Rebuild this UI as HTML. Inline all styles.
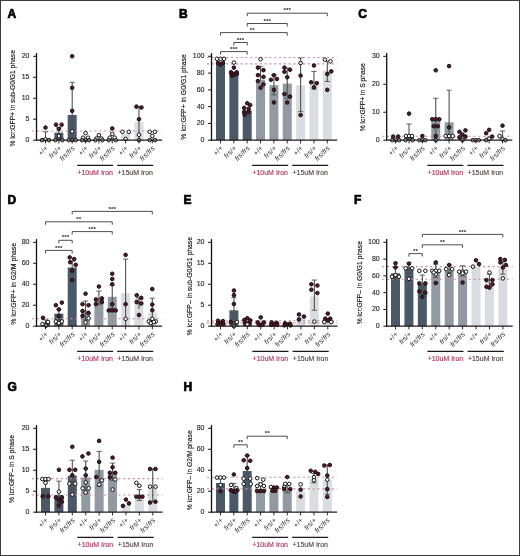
<!DOCTYPE html>
<html><head><meta charset="utf-8"><style>
html,body{margin:0;padding:0;background:#fff;}
body{width:520px;height:556px;overflow:hidden;}
svg{display:block;will-change:transform;}
text{font-family:'Liberation Sans',sans-serif;}
.pl{font-size:12px;font-weight:bold;fill:#000;stroke:#000;stroke-width:0.7px;}
.tk{font-size:7.0px;fill:#222;stroke:#222;stroke-width:0.12px;}
.xl{font-size:7.2px;fill:#2a2a2a;}
.gl{font-size:7.0px;stroke-width:0.15px;}
.yl{font-size:8px;fill:#1a1a1a;stroke:#1a1a1a;stroke-width:0.18px;}
.st{font-size:6.2px;fill:#222;font-weight:bold;letter-spacing:0.1px;}
</style></head><body>
<svg width="520" height="556" viewBox="0 0 520 556">
<rect x="0" y="0" width="520" height="556" fill="#fff"/>
<rect x="41" y="138.1" width="9" height="2.1" fill="#4a5968"/>
<rect x="54.35" y="132.65" width="9" height="7.55" fill="#4a5968"/>
<rect x="67.7" y="115.03" width="9" height="25.17" fill="#4a5968"/>
<rect x="81.05" y="138.94" width="9" height="1.26" fill="#9199a2"/>
<rect x="94.4" y="138.94" width="9" height="1.26" fill="#9199a2"/>
<rect x="107.75" y="137.68" width="9" height="2.52" fill="#9199a2"/>
<rect x="121.1" y="133.49" width="9" height="6.71" fill="#d9dce0"/>
<rect x="134.45" y="122.16" width="9" height="18.04" fill="#d9dce0"/>
<rect x="147.8" y="137.68" width="9" height="2.52" fill="#d9dce0"/>
<line x1="32" y1="130.97" x2="162.1" y2="130.97" stroke="#c8909b" stroke-width="1.1" stroke-dasharray="2.1 2.7"/>
<line x1="45.5" y1="140.2" x2="45.5" y2="131.81" stroke="#505050" stroke-width="1.1"/>
<line x1="42.9" y1="131.81" x2="48.1" y2="131.81" stroke="#505050" stroke-width="0.9"/>
<line x1="58.85" y1="140.2" x2="58.85" y2="127.61" stroke="#505050" stroke-width="1.1"/>
<line x1="56.25" y1="127.61" x2="61.45" y2="127.61" stroke="#505050" stroke-width="0.9"/>
<line x1="72.2" y1="140.2" x2="72.2" y2="82.31" stroke="#505050" stroke-width="1.1"/>
<line x1="69.6" y1="82.31" x2="74.8" y2="82.31" stroke="#505050" stroke-width="0.9"/>
<line x1="138.95" y1="140.2" x2="138.95" y2="106.64" stroke="#505050" stroke-width="1.1"/>
<line x1="136.35" y1="106.64" x2="141.55" y2="106.64" stroke="#505050" stroke-width="0.9"/>
<circle cx="45.5" cy="127.61" r="1.8" fill="#5e1529" stroke="#111" stroke-width="1"/>
<circle cx="42" cy="140.2" r="1.8" fill="#ffffff" stroke="#111" stroke-width="1"/>
<circle cx="45.5" cy="139.36" r="1.8" fill="#ffffff" stroke="#111" stroke-width="1"/>
<circle cx="49" cy="140.2" r="1.8" fill="#ffffff" stroke="#111" stroke-width="1"/>
<circle cx="56.05" cy="124.68" r="1.8" fill="#5e1529" stroke="#111" stroke-width="1"/>
<circle cx="61.65" cy="124.68" r="1.8" fill="#5e1529" stroke="#111" stroke-width="1"/>
<circle cx="58.85" cy="128.87" r="1.8" fill="#5e1529" stroke="#111" stroke-width="1"/>
<circle cx="58.85" cy="136" r="1.8" fill="#ffffff" stroke="#111" stroke-width="1"/>
<circle cx="55.35" cy="140.2" r="1.8" fill="#ffffff" stroke="#111" stroke-width="1"/>
<circle cx="62.35" cy="140.2" r="1.8" fill="#ffffff" stroke="#111" stroke-width="1"/>
<circle cx="72.2" cy="56.3" r="1.8" fill="#5e1529" stroke="#111" stroke-width="1"/>
<circle cx="72.2" cy="87.76" r="1.8" fill="#5e1529" stroke="#111" stroke-width="1"/>
<circle cx="72.2" cy="110.83" r="1.8" fill="#5e1529" stroke="#111" stroke-width="1"/>
<circle cx="72.2" cy="131.39" r="1.8" fill="#ffffff" stroke="#111" stroke-width="1"/>
<circle cx="68.7" cy="140.2" r="1.8" fill="#ffffff" stroke="#111" stroke-width="1"/>
<circle cx="72.2" cy="140.2" r="1.8" fill="#ffffff" stroke="#111" stroke-width="1"/>
<circle cx="75.7" cy="140.2" r="1.8" fill="#ffffff" stroke="#111" stroke-width="1"/>
<circle cx="85.55" cy="133.07" r="1.8" fill="#ffffff" stroke="#111" stroke-width="1"/>
<circle cx="83.05" cy="137.68" r="1.8" fill="#ffffff" stroke="#111" stroke-width="1"/>
<circle cx="88.05" cy="137.68" r="1.8" fill="#ffffff" stroke="#111" stroke-width="1"/>
<circle cx="82.05" cy="140.2" r="1.8" fill="#ffffff" stroke="#111" stroke-width="1"/>
<circle cx="85.55" cy="140.2" r="1.8" fill="#ffffff" stroke="#111" stroke-width="1"/>
<circle cx="89.05" cy="140.2" r="1.8" fill="#ffffff" stroke="#111" stroke-width="1"/>
<circle cx="98.9" cy="135.17" r="1.8" fill="#ffffff" stroke="#111" stroke-width="1"/>
<circle cx="96.4" cy="138.52" r="1.8" fill="#ffffff" stroke="#111" stroke-width="1"/>
<circle cx="101.4" cy="138.52" r="1.8" fill="#ffffff" stroke="#111" stroke-width="1"/>
<circle cx="95.4" cy="140.2" r="1.8" fill="#ffffff" stroke="#111" stroke-width="1"/>
<circle cx="102.4" cy="140.2" r="1.8" fill="#ffffff" stroke="#111" stroke-width="1"/>
<circle cx="112.25" cy="128.45" r="1.8" fill="#5e1529" stroke="#111" stroke-width="1"/>
<circle cx="112.25" cy="133.91" r="1.8" fill="#ffffff" stroke="#111" stroke-width="1"/>
<circle cx="109.75" cy="137.68" r="1.8" fill="#ffffff" stroke="#111" stroke-width="1"/>
<circle cx="114.75" cy="137.68" r="1.8" fill="#ffffff" stroke="#111" stroke-width="1"/>
<circle cx="108.75" cy="140.2" r="1.8" fill="#ffffff" stroke="#111" stroke-width="1"/>
<circle cx="115.75" cy="140.2" r="1.8" fill="#ffffff" stroke="#111" stroke-width="1"/>
<circle cx="122.4" cy="131.81" r="1.8" fill="#ffffff" stroke="#111" stroke-width="1"/>
<circle cx="128.8" cy="131.81" r="1.8" fill="#ffffff" stroke="#111" stroke-width="1"/>
<circle cx="125.6" cy="138.94" r="1.8" fill="#ffffff" stroke="#111" stroke-width="1"/>
<circle cx="136.45" cy="106.64" r="1.8" fill="#5e1529" stroke="#111" stroke-width="1"/>
<circle cx="141.45" cy="107.48" r="1.8" fill="#5e1529" stroke="#111" stroke-width="1"/>
<circle cx="138.95" cy="119.22" r="1.8" fill="#5e1529" stroke="#111" stroke-width="1"/>
<circle cx="138.95" cy="134.75" r="1.8" fill="#ffffff" stroke="#111" stroke-width="1"/>
<circle cx="138.95" cy="140.2" r="1.8" fill="#ffffff" stroke="#111" stroke-width="1"/>
<circle cx="149.7" cy="131.81" r="1.8" fill="#ffffff" stroke="#111" stroke-width="1"/>
<circle cx="154.9" cy="131.81" r="1.8" fill="#ffffff" stroke="#111" stroke-width="1"/>
<circle cx="152.3" cy="136" r="1.8" fill="#ffffff" stroke="#111" stroke-width="1"/>
<circle cx="149.7" cy="140.2" r="1.8" fill="#ffffff" stroke="#111" stroke-width="1"/>
<circle cx="154.9" cy="140.2" r="1.8" fill="#ffffff" stroke="#111" stroke-width="1"/>
<line x1="36.5" y1="53.1" x2="36.5" y2="140.8" stroke="#111" stroke-width="1.3"/>
<line x1="35.9" y1="140.2" x2="162.1" y2="140.2" stroke="#24161a" stroke-width="1.25"/>
<line x1="33.1" y1="140.2" x2="36.5" y2="140.2" stroke="#111" stroke-width="1"/>
<text x="29.5" y="142.2" text-anchor="end" class="tk" transform="translate(0 142.2) scale(1 0.92) translate(0 -142.2)">0</text>
<line x1="33.1" y1="119.22" x2="36.5" y2="119.22" stroke="#111" stroke-width="1"/>
<text x="29.5" y="121.22" text-anchor="end" class="tk" transform="translate(0 121.22) scale(1 0.92) translate(0 -121.22)">5</text>
<line x1="33.1" y1="98.25" x2="36.5" y2="98.25" stroke="#111" stroke-width="1"/>
<text x="29.5" y="100.25" text-anchor="end" class="tk" transform="translate(0 100.25) scale(1 0.92) translate(0 -100.25)">10</text>
<line x1="33.1" y1="77.27" x2="36.5" y2="77.27" stroke="#111" stroke-width="1"/>
<text x="29.5" y="79.27" text-anchor="end" class="tk" transform="translate(0 79.27) scale(1 0.92) translate(0 -79.27)">15</text>
<line x1="33.1" y1="56.3" x2="36.5" y2="56.3" stroke="#111" stroke-width="1"/>
<text x="29.5" y="58.3" text-anchor="end" class="tk" transform="translate(0 58.3) scale(1 0.92) translate(0 -58.3)">20</text>
<line x1="45.5" y1="140.2" x2="45.5" y2="143.4" stroke="#111" stroke-width="0.9"/>
<text class="xl" text-anchor="end" transform="translate(48.5 148.6) rotate(-45)">+/+</text>
<line x1="58.85" y1="140.2" x2="58.85" y2="143.4" stroke="#111" stroke-width="0.9"/>
<text class="xl" text-anchor="end" transform="translate(61.85 148.6) rotate(-45)"><tspan font-style="italic">frs</tspan>/+</text>
<line x1="72.2" y1="140.2" x2="72.2" y2="143.4" stroke="#111" stroke-width="0.9"/>
<text class="xl" text-anchor="end" transform="translate(75.2 148.6) rotate(-45)"><tspan font-style="italic">frs</tspan>/<tspan font-style="italic">frs</tspan></text>
<line x1="85.55" y1="140.2" x2="85.55" y2="143.4" stroke="#111" stroke-width="0.9"/>
<text class="xl" text-anchor="end" transform="translate(88.55 148.6) rotate(-45)">+/+</text>
<line x1="98.9" y1="140.2" x2="98.9" y2="143.4" stroke="#111" stroke-width="0.9"/>
<text class="xl" text-anchor="end" transform="translate(101.9 148.6) rotate(-45)"><tspan font-style="italic">frs</tspan>/+</text>
<line x1="112.25" y1="140.2" x2="112.25" y2="143.4" stroke="#111" stroke-width="0.9"/>
<text class="xl" text-anchor="end" transform="translate(115.25 148.6) rotate(-45)"><tspan font-style="italic">frs</tspan>/<tspan font-style="italic">frs</tspan></text>
<line x1="125.6" y1="140.2" x2="125.6" y2="143.4" stroke="#111" stroke-width="0.9"/>
<text class="xl" text-anchor="end" transform="translate(128.6 148.6) rotate(-45)">+/+</text>
<line x1="138.95" y1="140.2" x2="138.95" y2="143.4" stroke="#111" stroke-width="0.9"/>
<text class="xl" text-anchor="end" transform="translate(141.95 148.6) rotate(-45)"><tspan font-style="italic">frs</tspan>/+</text>
<line x1="152.3" y1="140.2" x2="152.3" y2="143.4" stroke="#111" stroke-width="0.9"/>
<text class="xl" text-anchor="end" transform="translate(155.3 148.6) rotate(-45)"><tspan font-style="italic">frs</tspan>/<tspan font-style="italic">frs</tspan></text>
<line x1="77.15" y1="165.4" x2="113.15" y2="165.4" stroke="#1a1a1a" stroke-width="1.2"/>
<text class="gl" x="0" y="0" text-anchor="middle" fill="#b3355a" stroke="#b3355a" transform="translate(95.15 174.6) scale(1 0.92)">+10uM Iron</text>
<line x1="117.2" y1="165.4" x2="153.2" y2="165.4" stroke="#1a1a1a" stroke-width="1.2"/>
<text class="gl" x="0" y="0" text-anchor="middle" fill="#5a4843" stroke="#5a4843" transform="translate(135.2 174.6) scale(1 0.92)">+15uM Iron</text>
<text class="yl" text-anchor="middle" transform="translate(14.9 98.25) rotate(-90) scale(0.84 1)">% lcr:GFP+ in sub-G0/G1 phase</text>
<text class="pl" x="7.6" y="18.2">A</text>
<rect x="216" y="61.75" width="9" height="78.45" fill="#4a5968"/>
<rect x="229.35" y="71.82" width="9" height="68.38" fill="#4a5968"/>
<rect x="242.7" y="110.42" width="9" height="29.78" fill="#4a5968"/>
<rect x="256.05" y="79.79" width="9" height="60.41" fill="#9199a2"/>
<rect x="269.4" y="85.25" width="9" height="54.95" fill="#9199a2"/>
<rect x="282.75" y="83.57" width="9" height="56.63" fill="#9199a2"/>
<rect x="296.1" y="85.25" width="9" height="54.95" fill="#d9dce0"/>
<rect x="309.45" y="84.41" width="9" height="55.79" fill="#d9dce0"/>
<rect x="322.8" y="70.56" width="9" height="69.64" fill="#d9dce0"/>
<line x1="207" y1="57.56" x2="337.1" y2="57.56" stroke="#c8909b" stroke-width="1.1" stroke-dasharray="2.1 2.7"/>
<line x1="207" y1="63.85" x2="337.1" y2="63.85" stroke="#c8909b" stroke-width="1.1" stroke-dasharray="2.1 2.7"/>
<line x1="260.55" y1="79.79" x2="260.55" y2="66.37" stroke="#505050" stroke-width="1.1"/>
<line x1="257.95" y1="66.37" x2="263.15" y2="66.37" stroke="#505050" stroke-width="0.9"/>
<line x1="273.9" y1="94.89" x2="273.9" y2="74.76" stroke="#505050" stroke-width="1.1"/>
<line x1="271.3" y1="74.76" x2="276.5" y2="74.76" stroke="#505050" stroke-width="0.9"/>
<line x1="271.3" y1="94.89" x2="276.5" y2="94.89" stroke="#505050" stroke-width="0.9"/>
<line x1="287.25" y1="98.25" x2="287.25" y2="68.05" stroke="#505050" stroke-width="1.1"/>
<line x1="284.65" y1="68.05" x2="289.85" y2="68.05" stroke="#505050" stroke-width="0.9"/>
<line x1="284.65" y1="98.25" x2="289.85" y2="98.25" stroke="#505050" stroke-width="0.9"/>
<line x1="300.6" y1="111.67" x2="300.6" y2="57.98" stroke="#505050" stroke-width="1.1"/>
<line x1="298" y1="57.98" x2="303.2" y2="57.98" stroke="#505050" stroke-width="0.9"/>
<line x1="298" y1="111.67" x2="303.2" y2="111.67" stroke="#505050" stroke-width="0.9"/>
<line x1="313.95" y1="89.02" x2="313.95" y2="71.4" stroke="#505050" stroke-width="1.1"/>
<line x1="311.35" y1="71.4" x2="316.55" y2="71.4" stroke="#505050" stroke-width="0.9"/>
<line x1="311.35" y1="89.02" x2="316.55" y2="89.02" stroke="#505050" stroke-width="0.9"/>
<line x1="327.3" y1="81.47" x2="327.3" y2="61.33" stroke="#505050" stroke-width="1.1"/>
<line x1="324.7" y1="61.33" x2="329.9" y2="61.33" stroke="#505050" stroke-width="0.9"/>
<line x1="324.7" y1="81.47" x2="329.9" y2="81.47" stroke="#505050" stroke-width="0.9"/>
<circle cx="216.9" cy="58.82" r="1.8" fill="#ffffff" stroke="#111" stroke-width="1"/>
<circle cx="220.5" cy="58.82" r="1.8" fill="#ffffff" stroke="#111" stroke-width="1"/>
<circle cx="224.1" cy="58.82" r="1.8" fill="#ffffff" stroke="#111" stroke-width="1"/>
<circle cx="218" cy="63.01" r="1.8" fill="#5e1529" stroke="#111" stroke-width="1"/>
<circle cx="223" cy="63.01" r="1.8" fill="#5e1529" stroke="#111" stroke-width="1"/>
<circle cx="220.5" cy="64.69" r="1.8" fill="#5e1529" stroke="#111" stroke-width="1"/>
<circle cx="233.85" cy="62.59" r="1.8" fill="#ffffff" stroke="#111" stroke-width="1"/>
<circle cx="233.85" cy="67.63" r="1.8" fill="#5e1529" stroke="#111" stroke-width="1"/>
<circle cx="231.05" cy="72.24" r="1.8" fill="#5e1529" stroke="#111" stroke-width="1"/>
<circle cx="236.65" cy="72.24" r="1.8" fill="#5e1529" stroke="#111" stroke-width="1"/>
<circle cx="231.85" cy="75.6" r="1.8" fill="#5e1529" stroke="#111" stroke-width="1"/>
<circle cx="236.85" cy="73.92" r="1.8" fill="#5e1529" stroke="#111" stroke-width="1"/>
<circle cx="233.85" cy="74.76" r="1.8" fill="#5e1529" stroke="#111" stroke-width="1"/>
<circle cx="247.2" cy="103.28" r="1.8" fill="#5e1529" stroke="#111" stroke-width="1"/>
<circle cx="250.2" cy="104.96" r="1.8" fill="#5e1529" stroke="#111" stroke-width="1"/>
<circle cx="244.2" cy="107.9" r="1.8" fill="#5e1529" stroke="#111" stroke-width="1"/>
<circle cx="248.7" cy="108.74" r="1.8" fill="#5e1529" stroke="#111" stroke-width="1"/>
<circle cx="244.2" cy="112.09" r="1.8" fill="#5e1529" stroke="#111" stroke-width="1"/>
<circle cx="248.7" cy="112.09" r="1.8" fill="#5e1529" stroke="#111" stroke-width="1"/>
<circle cx="244.7" cy="114.61" r="1.8" fill="#5e1529" stroke="#111" stroke-width="1"/>
<circle cx="260.55" cy="59.24" r="1.8" fill="#ffffff" stroke="#111" stroke-width="1"/>
<circle cx="257.95" cy="67.63" r="1.8" fill="#5e1529" stroke="#111" stroke-width="1"/>
<circle cx="263.45" cy="70.14" r="1.8" fill="#5e1529" stroke="#111" stroke-width="1"/>
<circle cx="257.95" cy="75.18" r="1.8" fill="#5e1529" stroke="#111" stroke-width="1"/>
<circle cx="263.45" cy="76.86" r="1.8" fill="#5e1529" stroke="#111" stroke-width="1"/>
<circle cx="257.95" cy="81.05" r="1.8" fill="#5e1529" stroke="#111" stroke-width="1"/>
<circle cx="263.45" cy="84.41" r="1.8" fill="#5e1529" stroke="#111" stroke-width="1"/>
<circle cx="260.55" cy="87.76" r="1.8" fill="#5e1529" stroke="#111" stroke-width="1"/>
<circle cx="273.9" cy="75.18" r="1.8" fill="#5e1529" stroke="#111" stroke-width="1"/>
<circle cx="270.9" cy="79.79" r="1.8" fill="#5e1529" stroke="#111" stroke-width="1"/>
<circle cx="276.9" cy="78.95" r="1.8" fill="#5e1529" stroke="#111" stroke-width="1"/>
<circle cx="273.9" cy="89.86" r="1.8" fill="#5e1529" stroke="#111" stroke-width="1"/>
<circle cx="273.9" cy="102.44" r="1.8" fill="#5e1529" stroke="#111" stroke-width="1"/>
<circle cx="284.45" cy="67.63" r="1.8" fill="#5e1529" stroke="#111" stroke-width="1"/>
<circle cx="290.05" cy="69.72" r="1.8" fill="#5e1529" stroke="#111" stroke-width="1"/>
<circle cx="284.45" cy="71.82" r="1.8" fill="#5e1529" stroke="#111" stroke-width="1"/>
<circle cx="287.25" cy="77.27" r="1.8" fill="#5e1529" stroke="#111" stroke-width="1"/>
<circle cx="284.45" cy="94.05" r="1.8" fill="#5e1529" stroke="#111" stroke-width="1"/>
<circle cx="290.05" cy="96.57" r="1.8" fill="#5e1529" stroke="#111" stroke-width="1"/>
<circle cx="287.25" cy="102.44" r="1.8" fill="#5e1529" stroke="#111" stroke-width="1"/>
<circle cx="300.6" cy="63.01" r="1.8" fill="#ffffff" stroke="#111" stroke-width="1"/>
<circle cx="300.6" cy="75.6" r="1.8" fill="#5e1529" stroke="#111" stroke-width="1"/>
<circle cx="300.6" cy="115.03" r="1.8" fill="#5e1529" stroke="#111" stroke-width="1"/>
<circle cx="313.95" cy="65.53" r="1.8" fill="#5e1529" stroke="#111" stroke-width="1"/>
<circle cx="311.15" cy="82.31" r="1.8" fill="#5e1529" stroke="#111" stroke-width="1"/>
<circle cx="316.75" cy="83.15" r="1.8" fill="#5e1529" stroke="#111" stroke-width="1"/>
<circle cx="313.95" cy="87.34" r="1.8" fill="#5e1529" stroke="#111" stroke-width="1"/>
<circle cx="324.9" cy="59.66" r="1.8" fill="#ffffff" stroke="#111" stroke-width="1"/>
<circle cx="330.5" cy="61.33" r="1.8" fill="#ffffff" stroke="#111" stroke-width="1"/>
<circle cx="331.3" cy="71.4" r="1.8" fill="#5e1529" stroke="#111" stroke-width="1"/>
<circle cx="327.3" cy="73.92" r="1.8" fill="#5e1529" stroke="#111" stroke-width="1"/>
<circle cx="327.3" cy="89.86" r="1.8" fill="#5e1529" stroke="#111" stroke-width="1"/>
<line x1="211.5" y1="53.1" x2="211.5" y2="140.8" stroke="#111" stroke-width="1.3"/>
<line x1="210.9" y1="140.2" x2="337.1" y2="140.2" stroke="#24161a" stroke-width="1.25"/>
<line x1="208.1" y1="140.2" x2="211.5" y2="140.2" stroke="#111" stroke-width="1"/>
<text x="204.5" y="142.2" text-anchor="end" class="tk" transform="translate(0 142.2) scale(1 0.92) translate(0 -142.2)">0</text>
<line x1="208.1" y1="123.42" x2="211.5" y2="123.42" stroke="#111" stroke-width="1"/>
<text x="204.5" y="125.42" text-anchor="end" class="tk" transform="translate(0 125.42) scale(1 0.92) translate(0 -125.42)">20</text>
<line x1="208.1" y1="106.64" x2="211.5" y2="106.64" stroke="#111" stroke-width="1"/>
<text x="204.5" y="108.64" text-anchor="end" class="tk" transform="translate(0 108.64) scale(1 0.92) translate(0 -108.64)">40</text>
<line x1="208.1" y1="89.86" x2="211.5" y2="89.86" stroke="#111" stroke-width="1"/>
<text x="204.5" y="91.86" text-anchor="end" class="tk" transform="translate(0 91.86) scale(1 0.92) translate(0 -91.86)">60</text>
<line x1="208.1" y1="73.08" x2="211.5" y2="73.08" stroke="#111" stroke-width="1"/>
<text x="204.5" y="75.08" text-anchor="end" class="tk" transform="translate(0 75.08) scale(1 0.92) translate(0 -75.08)">80</text>
<line x1="208.1" y1="56.3" x2="211.5" y2="56.3" stroke="#111" stroke-width="1"/>
<text x="204.5" y="58.3" text-anchor="end" class="tk" transform="translate(0 58.3) scale(1 0.92) translate(0 -58.3)">100</text>
<line x1="220.5" y1="140.2" x2="220.5" y2="143.4" stroke="#111" stroke-width="0.9"/>
<text class="xl" text-anchor="end" transform="translate(223.5 148.6) rotate(-45)">+/+</text>
<line x1="233.85" y1="140.2" x2="233.85" y2="143.4" stroke="#111" stroke-width="0.9"/>
<text class="xl" text-anchor="end" transform="translate(236.85 148.6) rotate(-45)"><tspan font-style="italic">frs</tspan>/+</text>
<line x1="247.2" y1="140.2" x2="247.2" y2="143.4" stroke="#111" stroke-width="0.9"/>
<text class="xl" text-anchor="end" transform="translate(250.2 148.6) rotate(-45)"><tspan font-style="italic">frs</tspan>/<tspan font-style="italic">frs</tspan></text>
<line x1="260.55" y1="140.2" x2="260.55" y2="143.4" stroke="#111" stroke-width="0.9"/>
<text class="xl" text-anchor="end" transform="translate(263.55 148.6) rotate(-45)">+/+</text>
<line x1="273.9" y1="140.2" x2="273.9" y2="143.4" stroke="#111" stroke-width="0.9"/>
<text class="xl" text-anchor="end" transform="translate(276.9 148.6) rotate(-45)"><tspan font-style="italic">frs</tspan>/+</text>
<line x1="287.25" y1="140.2" x2="287.25" y2="143.4" stroke="#111" stroke-width="0.9"/>
<text class="xl" text-anchor="end" transform="translate(290.25 148.6) rotate(-45)"><tspan font-style="italic">frs</tspan>/<tspan font-style="italic">frs</tspan></text>
<line x1="300.6" y1="140.2" x2="300.6" y2="143.4" stroke="#111" stroke-width="0.9"/>
<text class="xl" text-anchor="end" transform="translate(303.6 148.6) rotate(-45)">+/+</text>
<line x1="313.95" y1="140.2" x2="313.95" y2="143.4" stroke="#111" stroke-width="0.9"/>
<text class="xl" text-anchor="end" transform="translate(316.95 148.6) rotate(-45)"><tspan font-style="italic">frs</tspan>/+</text>
<line x1="327.3" y1="140.2" x2="327.3" y2="143.4" stroke="#111" stroke-width="0.9"/>
<text class="xl" text-anchor="end" transform="translate(330.3 148.6) rotate(-45)"><tspan font-style="italic">frs</tspan>/<tspan font-style="italic">frs</tspan></text>
<line x1="252.15" y1="165.4" x2="288.15" y2="165.4" stroke="#1a1a1a" stroke-width="1.2"/>
<text class="gl" x="0" y="0" text-anchor="middle" fill="#b3355a" stroke="#b3355a" transform="translate(270.15 174.6) scale(1 0.92)">+10uM Iron</text>
<line x1="292.2" y1="165.4" x2="328.2" y2="165.4" stroke="#1a1a1a" stroke-width="1.2"/>
<text class="gl" x="0" y="0" text-anchor="middle" fill="#5a4843" stroke="#5a4843" transform="translate(310.2 174.6) scale(1 0.92)">+15uM Iron</text>
<text class="yl" text-anchor="middle" transform="translate(185.9 96.95) rotate(-90) scale(0.86 1)">% lcr:GFP+ in G0/G1 phase</text>
<path d="M220.5 54.6V51.6H247.2V54.6" fill="none" stroke="#3a3a3a" stroke-width="0.9"/>
<text class="st" x="233.85" y="50.7" text-anchor="middle">***</text>
<path d="M233.85 45.5V42.5H247.2V45.5" fill="none" stroke="#3a3a3a" stroke-width="0.9"/>
<text class="st" x="240.52" y="41.6" text-anchor="middle">***</text>
<path d="M220.5 35.6V32.6H287.25V35.6" fill="none" stroke="#3a3a3a" stroke-width="0.9"/>
<text class="st" x="252.28" y="31.7" text-anchor="middle">**</text>
<path d="M247.2 26.5V23.5H287.25V26.5" fill="none" stroke="#3a3a3a" stroke-width="0.9"/>
<text class="st" x="267.23" y="22.6" text-anchor="middle">***</text>
<path d="M247.2 16.2V13.2H327.3V16.2" fill="none" stroke="#3a3a3a" stroke-width="0.9"/>
<text class="st" x="287.25" y="12.3" text-anchor="middle">***</text>
<text class="pl" x="179" y="18.2">B</text>
<rect x="391.2" y="139.08" width="9" height="1.12" fill="#4a5968"/>
<rect x="404.55" y="136" width="9" height="4.19" fill="#4a5968"/>
<rect x="417.9" y="139.36" width="9" height="0.84" fill="#4a5968"/>
<rect x="431.25" y="117.83" width="9" height="22.37" fill="#9199a2"/>
<rect x="444.6" y="122.3" width="9" height="17.9" fill="#9199a2"/>
<rect x="457.95" y="134.61" width="9" height="5.59" fill="#9199a2"/>
<rect x="471.3" y="139.64" width="9" height="0.56" fill="#d9dce0"/>
<rect x="484.65" y="135.73" width="9" height="4.47" fill="#d9dce0"/>
<rect x="498" y="137.4" width="9" height="2.8" fill="#d9dce0"/>
<line x1="382.2" y1="136.28" x2="512.3" y2="136.28" stroke="#c8909b" stroke-width="1.1" stroke-dasharray="2.1 2.7"/>
<line x1="409.05" y1="140.2" x2="409.05" y2="123.98" stroke="#505050" stroke-width="1.1"/>
<line x1="406.45" y1="123.98" x2="411.65" y2="123.98" stroke="#505050" stroke-width="0.9"/>
<line x1="435.75" y1="140.2" x2="435.75" y2="98.25" stroke="#505050" stroke-width="1.1"/>
<line x1="433.15" y1="98.25" x2="438.35" y2="98.25" stroke="#505050" stroke-width="0.9"/>
<line x1="449.1" y1="140.2" x2="449.1" y2="90.14" stroke="#505050" stroke-width="1.1"/>
<line x1="446.5" y1="90.14" x2="451.7" y2="90.14" stroke="#505050" stroke-width="0.9"/>
<line x1="502.5" y1="140.2" x2="502.5" y2="130.97" stroke="#505050" stroke-width="1.1"/>
<line x1="499.9" y1="130.97" x2="505.1" y2="130.97" stroke="#505050" stroke-width="0.9"/>
<circle cx="393.2" cy="136.56" r="1.8" fill="#5e1529" stroke="#111" stroke-width="1"/>
<circle cx="398.2" cy="136.56" r="1.8" fill="#5e1529" stroke="#111" stroke-width="1"/>
<circle cx="392.2" cy="140.2" r="1.8" fill="#ffffff" stroke="#111" stroke-width="1"/>
<circle cx="395.7" cy="140.2" r="1.8" fill="#ffffff" stroke="#111" stroke-width="1"/>
<circle cx="399.2" cy="140.2" r="1.8" fill="#ffffff" stroke="#111" stroke-width="1"/>
<circle cx="409.05" cy="113.63" r="1.8" fill="#5e1529" stroke="#111" stroke-width="1"/>
<circle cx="406.05" cy="136" r="1.8" fill="#ffffff" stroke="#111" stroke-width="1"/>
<circle cx="409.05" cy="136" r="1.8" fill="#ffffff" stroke="#111" stroke-width="1"/>
<circle cx="412.05" cy="136" r="1.8" fill="#ffffff" stroke="#111" stroke-width="1"/>
<circle cx="405.55" cy="140.2" r="1.8" fill="#ffffff" stroke="#111" stroke-width="1"/>
<circle cx="412.55" cy="140.2" r="1.8" fill="#ffffff" stroke="#111" stroke-width="1"/>
<circle cx="422.4" cy="136" r="1.8" fill="#5e1529" stroke="#111" stroke-width="1"/>
<circle cx="419.4" cy="140.2" r="1.8" fill="#ffffff" stroke="#111" stroke-width="1"/>
<circle cx="422.4" cy="140.2" r="1.8" fill="#ffffff" stroke="#111" stroke-width="1"/>
<circle cx="425.4" cy="140.2" r="1.8" fill="#ffffff" stroke="#111" stroke-width="1"/>
<circle cx="435.75" cy="70.28" r="1.8" fill="#5e1529" stroke="#111" stroke-width="1"/>
<circle cx="432.25" cy="119.22" r="1.8" fill="#5e1529" stroke="#111" stroke-width="1"/>
<circle cx="435.75" cy="119.22" r="1.8" fill="#5e1529" stroke="#111" stroke-width="1"/>
<circle cx="439.25" cy="119.22" r="1.8" fill="#5e1529" stroke="#111" stroke-width="1"/>
<circle cx="433.75" cy="126.22" r="1.8" fill="#5e1529" stroke="#111" stroke-width="1"/>
<circle cx="437.75" cy="126.22" r="1.8" fill="#5e1529" stroke="#111" stroke-width="1"/>
<circle cx="435.75" cy="136" r="1.8" fill="#5e1529" stroke="#111" stroke-width="1"/>
<circle cx="435.75" cy="140.2" r="1.8" fill="#ffffff" stroke="#111" stroke-width="1"/>
<circle cx="449.1" cy="66.09" r="1.8" fill="#5e1529" stroke="#111" stroke-width="1"/>
<circle cx="449.1" cy="127.34" r="1.8" fill="#5e1529" stroke="#111" stroke-width="1"/>
<circle cx="445.6" cy="136" r="1.8" fill="#ffffff" stroke="#111" stroke-width="1"/>
<circle cx="449.1" cy="136" r="1.8" fill="#ffffff" stroke="#111" stroke-width="1"/>
<circle cx="452.6" cy="136" r="1.8" fill="#ffffff" stroke="#111" stroke-width="1"/>
<circle cx="459.45" cy="131.81" r="1.8" fill="#5e1529" stroke="#111" stroke-width="1"/>
<circle cx="465.45" cy="130.41" r="1.8" fill="#5e1529" stroke="#111" stroke-width="1"/>
<circle cx="462.45" cy="134.61" r="1.8" fill="#5e1529" stroke="#111" stroke-width="1"/>
<circle cx="459.45" cy="137.4" r="1.8" fill="#5e1529" stroke="#111" stroke-width="1"/>
<circle cx="465.45" cy="136.56" r="1.8" fill="#5e1529" stroke="#111" stroke-width="1"/>
<circle cx="462.45" cy="140.2" r="1.8" fill="#ffffff" stroke="#111" stroke-width="1"/>
<circle cx="472.8" cy="140.2" r="1.8" fill="#ffffff" stroke="#111" stroke-width="1"/>
<circle cx="475.8" cy="140.2" r="1.8" fill="#ffffff" stroke="#111" stroke-width="1"/>
<circle cx="478.8" cy="140.2" r="1.8" fill="#ffffff" stroke="#111" stroke-width="1"/>
<circle cx="489.15" cy="129.85" r="1.8" fill="#5e1529" stroke="#111" stroke-width="1"/>
<circle cx="486.15" cy="133.21" r="1.8" fill="#5e1529" stroke="#111" stroke-width="1"/>
<circle cx="492.15" cy="136.56" r="1.8" fill="#5e1529" stroke="#111" stroke-width="1"/>
<circle cx="489.15" cy="138.8" r="1.8" fill="#ffffff" stroke="#111" stroke-width="1"/>
<circle cx="486.15" cy="140.2" r="1.8" fill="#ffffff" stroke="#111" stroke-width="1"/>
<circle cx="502.5" cy="125.66" r="1.8" fill="#5e1529" stroke="#111" stroke-width="1"/>
<circle cx="499.5" cy="136" r="1.8" fill="#ffffff" stroke="#111" stroke-width="1"/>
<circle cx="502.5" cy="139.36" r="1.8" fill="#ffffff" stroke="#111" stroke-width="1"/>
<circle cx="505.5" cy="140.2" r="1.8" fill="#ffffff" stroke="#111" stroke-width="1"/>
<line x1="386.7" y1="53.1" x2="386.7" y2="140.8" stroke="#111" stroke-width="1.3"/>
<line x1="386.1" y1="140.2" x2="512.3" y2="140.2" stroke="#24161a" stroke-width="1.25"/>
<line x1="383.3" y1="140.2" x2="386.7" y2="140.2" stroke="#111" stroke-width="1"/>
<text x="379.7" y="142.2" text-anchor="end" class="tk" transform="translate(0 142.2) scale(1 0.92) translate(0 -142.2)">0</text>
<line x1="383.3" y1="112.23" x2="386.7" y2="112.23" stroke="#111" stroke-width="1"/>
<text x="379.7" y="114.23" text-anchor="end" class="tk" transform="translate(0 114.23) scale(1 0.92) translate(0 -114.23)">10</text>
<line x1="383.3" y1="84.27" x2="386.7" y2="84.27" stroke="#111" stroke-width="1"/>
<text x="379.7" y="86.27" text-anchor="end" class="tk" transform="translate(0 86.27) scale(1 0.92) translate(0 -86.27)">20</text>
<line x1="383.3" y1="56.3" x2="386.7" y2="56.3" stroke="#111" stroke-width="1"/>
<text x="379.7" y="58.3" text-anchor="end" class="tk" transform="translate(0 58.3) scale(1 0.92) translate(0 -58.3)">30</text>
<line x1="395.7" y1="140.2" x2="395.7" y2="143.4" stroke="#111" stroke-width="0.9"/>
<text class="xl" text-anchor="end" transform="translate(398.7 148.6) rotate(-45)">+/+</text>
<line x1="409.05" y1="140.2" x2="409.05" y2="143.4" stroke="#111" stroke-width="0.9"/>
<text class="xl" text-anchor="end" transform="translate(412.05 148.6) rotate(-45)"><tspan font-style="italic">frs</tspan>/+</text>
<line x1="422.4" y1="140.2" x2="422.4" y2="143.4" stroke="#111" stroke-width="0.9"/>
<text class="xl" text-anchor="end" transform="translate(425.4 148.6) rotate(-45)"><tspan font-style="italic">frs</tspan>/<tspan font-style="italic">frs</tspan></text>
<line x1="435.75" y1="140.2" x2="435.75" y2="143.4" stroke="#111" stroke-width="0.9"/>
<text class="xl" text-anchor="end" transform="translate(438.75 148.6) rotate(-45)">+/+</text>
<line x1="449.1" y1="140.2" x2="449.1" y2="143.4" stroke="#111" stroke-width="0.9"/>
<text class="xl" text-anchor="end" transform="translate(452.1 148.6) rotate(-45)"><tspan font-style="italic">frs</tspan>/+</text>
<line x1="462.45" y1="140.2" x2="462.45" y2="143.4" stroke="#111" stroke-width="0.9"/>
<text class="xl" text-anchor="end" transform="translate(465.45 148.6) rotate(-45)"><tspan font-style="italic">frs</tspan>/<tspan font-style="italic">frs</tspan></text>
<line x1="475.8" y1="140.2" x2="475.8" y2="143.4" stroke="#111" stroke-width="0.9"/>
<text class="xl" text-anchor="end" transform="translate(478.8 148.6) rotate(-45)">+/+</text>
<line x1="489.15" y1="140.2" x2="489.15" y2="143.4" stroke="#111" stroke-width="0.9"/>
<text class="xl" text-anchor="end" transform="translate(492.15 148.6) rotate(-45)"><tspan font-style="italic">frs</tspan>/+</text>
<line x1="502.5" y1="140.2" x2="502.5" y2="143.4" stroke="#111" stroke-width="0.9"/>
<text class="xl" text-anchor="end" transform="translate(505.5 148.6) rotate(-45)"><tspan font-style="italic">frs</tspan>/<tspan font-style="italic">frs</tspan></text>
<line x1="427.35" y1="165.4" x2="463.35" y2="165.4" stroke="#1a1a1a" stroke-width="1.2"/>
<text class="gl" x="0" y="0" text-anchor="middle" fill="#b3355a" stroke="#b3355a" transform="translate(445.35 174.6) scale(1 0.92)">+10uM Iron</text>
<line x1="467.4" y1="165.4" x2="503.4" y2="165.4" stroke="#1a1a1a" stroke-width="1.2"/>
<text class="gl" x="0" y="0" text-anchor="middle" fill="#5a4843" stroke="#5a4843" transform="translate(485.4 174.6) scale(1 0.92)">+15uM Iron</text>
<text class="yl" text-anchor="middle" transform="translate(365.1 97.25) rotate(-90) scale(0.84 1)">% lcr:GFP+ in S phase</text>
<text class="pl" x="358.2" y="18.4">C</text>
<rect x="41" y="322.53" width="9" height="3.67" fill="#4a5968"/>
<rect x="54.35" y="313.62" width="9" height="12.58" fill="#4a5968"/>
<rect x="67.7" y="267.47" width="9" height="58.73" fill="#4a5968"/>
<rect x="81.05" y="310.47" width="9" height="15.73" fill="#9199a2"/>
<rect x="94.4" y="297.88" width="9" height="28.32" fill="#9199a2"/>
<rect x="107.75" y="296.83" width="9" height="29.37" fill="#9199a2"/>
<rect x="121.1" y="293.16" width="9" height="33.04" fill="#d9dce0"/>
<rect x="134.45" y="297.88" width="9" height="28.32" fill="#d9dce0"/>
<rect x="147.8" y="312.57" width="9" height="13.63" fill="#d9dce0"/>
<line x1="32" y1="318.75" x2="162.1" y2="318.75" stroke="#c8909b" stroke-width="1.1" stroke-dasharray="2.1 2.7"/>
<line x1="45.5" y1="326.2" x2="45.5" y2="319.91" stroke="#505050" stroke-width="1.1"/>
<line x1="42.9" y1="319.91" x2="48.1" y2="319.91" stroke="#505050" stroke-width="0.9"/>
<line x1="58.85" y1="326.2" x2="58.85" y2="309.42" stroke="#505050" stroke-width="1.1"/>
<line x1="56.25" y1="309.42" x2="61.45" y2="309.42" stroke="#505050" stroke-width="0.9"/>
<line x1="72.2" y1="273.76" x2="72.2" y2="261.18" stroke="#505050" stroke-width="1.1"/>
<line x1="69.6" y1="261.18" x2="74.8" y2="261.18" stroke="#505050" stroke-width="0.9"/>
<line x1="69.6" y1="273.76" x2="74.8" y2="273.76" stroke="#505050" stroke-width="0.9"/>
<line x1="85.55" y1="319.91" x2="85.55" y2="301.03" stroke="#505050" stroke-width="1.1"/>
<line x1="82.95" y1="301.03" x2="88.15" y2="301.03" stroke="#505050" stroke-width="0.9"/>
<line x1="82.95" y1="319.91" x2="88.15" y2="319.91" stroke="#505050" stroke-width="0.9"/>
<line x1="98.9" y1="304.18" x2="98.9" y2="291.07" stroke="#505050" stroke-width="1.1"/>
<line x1="96.3" y1="291.07" x2="101.5" y2="291.07" stroke="#505050" stroke-width="0.9"/>
<line x1="96.3" y1="304.18" x2="101.5" y2="304.18" stroke="#505050" stroke-width="0.9"/>
<line x1="112.25" y1="308.37" x2="112.25" y2="285.3" stroke="#505050" stroke-width="1.1"/>
<line x1="109.65" y1="285.3" x2="114.85" y2="285.3" stroke="#505050" stroke-width="0.9"/>
<line x1="109.65" y1="308.37" x2="114.85" y2="308.37" stroke="#505050" stroke-width="0.9"/>
<line x1="125.6" y1="326.2" x2="125.6" y2="259.08" stroke="#505050" stroke-width="1.1"/>
<line x1="123" y1="259.08" x2="128.2" y2="259.08" stroke="#505050" stroke-width="0.9"/>
<line x1="138.95" y1="308.9" x2="138.95" y2="297.88" stroke="#505050" stroke-width="1.1"/>
<line x1="136.35" y1="297.88" x2="141.55" y2="297.88" stroke="#505050" stroke-width="0.9"/>
<line x1="152.3" y1="326.2" x2="152.3" y2="298.2" stroke="#505050" stroke-width="1.1"/>
<line x1="149.7" y1="298.2" x2="154.9" y2="298.2" stroke="#505050" stroke-width="0.9"/>
<circle cx="43" cy="317.81" r="1.8" fill="#5e1529" stroke="#111" stroke-width="1"/>
<circle cx="42.5" cy="324.1" r="1.8" fill="#ffffff" stroke="#111" stroke-width="1"/>
<circle cx="48" cy="322" r="1.8" fill="#ffffff" stroke="#111" stroke-width="1"/>
<circle cx="46" cy="325.68" r="1.8" fill="#ffffff" stroke="#111" stroke-width="1"/>
<circle cx="55.85" cy="305.22" r="1.8" fill="#5e1529" stroke="#111" stroke-width="1"/>
<circle cx="61.85" cy="302.6" r="1.8" fill="#5e1529" stroke="#111" stroke-width="1"/>
<circle cx="58.85" cy="309.42" r="1.8" fill="#5e1529" stroke="#111" stroke-width="1"/>
<circle cx="58.85" cy="316.24" r="1.8" fill="#5e1529" stroke="#111" stroke-width="1"/>
<circle cx="55.85" cy="321.48" r="1.8" fill="#ffffff" stroke="#111" stroke-width="1"/>
<circle cx="61.85" cy="321.48" r="1.8" fill="#ffffff" stroke="#111" stroke-width="1"/>
<circle cx="58.85" cy="323.05" r="1.8" fill="#ffffff" stroke="#111" stroke-width="1"/>
<circle cx="69.7" cy="257.4" r="1.8" fill="#5e1529" stroke="#111" stroke-width="1"/>
<circle cx="74.2" cy="259.08" r="1.8" fill="#5e1529" stroke="#111" stroke-width="1"/>
<circle cx="70.2" cy="262.23" r="1.8" fill="#5e1529" stroke="#111" stroke-width="1"/>
<circle cx="75.7" cy="264.85" r="1.8" fill="#5e1529" stroke="#111" stroke-width="1"/>
<circle cx="72.2" cy="270.62" r="1.8" fill="#5e1529" stroke="#111" stroke-width="1"/>
<circle cx="72.2" cy="280.06" r="1.8" fill="#5e1529" stroke="#111" stroke-width="1"/>
<circle cx="85.55" cy="293.69" r="1.8" fill="#5e1529" stroke="#111" stroke-width="1"/>
<circle cx="82.55" cy="304.18" r="1.8" fill="#5e1529" stroke="#111" stroke-width="1"/>
<circle cx="88.55" cy="305.22" r="1.8" fill="#5e1529" stroke="#111" stroke-width="1"/>
<circle cx="82.55" cy="310.99" r="1.8" fill="#5e1529" stroke="#111" stroke-width="1"/>
<circle cx="88.55" cy="313.09" r="1.8" fill="#5e1529" stroke="#111" stroke-width="1"/>
<circle cx="82.55" cy="315.92" r="1.8" fill="#5e1529" stroke="#111" stroke-width="1"/>
<circle cx="88.55" cy="318.33" r="1.8" fill="#ffffff" stroke="#111" stroke-width="1"/>
<circle cx="85.55" cy="322.53" r="1.8" fill="#ffffff" stroke="#111" stroke-width="1"/>
<circle cx="98.9" cy="286.56" r="1.8" fill="#5e1529" stroke="#111" stroke-width="1"/>
<circle cx="95.9" cy="299.46" r="1.8" fill="#5e1529" stroke="#111" stroke-width="1"/>
<circle cx="101.9" cy="298.41" r="1.8" fill="#5e1529" stroke="#111" stroke-width="1"/>
<circle cx="95.9" cy="304.18" r="1.8" fill="#5e1529" stroke="#111" stroke-width="1"/>
<circle cx="101.9" cy="302.08" r="1.8" fill="#5e1529" stroke="#111" stroke-width="1"/>
<circle cx="112.25" cy="273.76" r="1.8" fill="#5e1529" stroke="#111" stroke-width="1"/>
<circle cx="112.25" cy="279.01" r="1.8" fill="#5e1529" stroke="#111" stroke-width="1"/>
<circle cx="112.25" cy="284.25" r="1.8" fill="#5e1529" stroke="#111" stroke-width="1"/>
<circle cx="112.25" cy="304.18" r="1.8" fill="#5e1529" stroke="#111" stroke-width="1"/>
<circle cx="108.75" cy="310.47" r="1.8" fill="#5e1529" stroke="#111" stroke-width="1"/>
<circle cx="112.25" cy="310.47" r="1.8" fill="#5e1529" stroke="#111" stroke-width="1"/>
<circle cx="115.75" cy="310.47" r="1.8" fill="#5e1529" stroke="#111" stroke-width="1"/>
<circle cx="125.6" cy="254.88" r="1.8" fill="#5e1529" stroke="#111" stroke-width="1"/>
<circle cx="125.6" cy="304.18" r="1.8" fill="#5e1529" stroke="#111" stroke-width="1"/>
<circle cx="125.6" cy="318.86" r="1.8" fill="#ffffff" stroke="#111" stroke-width="1"/>
<circle cx="136.75" cy="295.26" r="1.8" fill="#5e1529" stroke="#111" stroke-width="1"/>
<circle cx="141.25" cy="297.88" r="1.8" fill="#5e1529" stroke="#111" stroke-width="1"/>
<circle cx="136.75" cy="302.08" r="1.8" fill="#5e1529" stroke="#111" stroke-width="1"/>
<circle cx="141.25" cy="303.44" r="1.8" fill="#5e1529" stroke="#111" stroke-width="1"/>
<circle cx="138.95" cy="314.98" r="1.8" fill="#5e1529" stroke="#111" stroke-width="1"/>
<circle cx="152.3" cy="289.07" r="1.8" fill="#5e1529" stroke="#111" stroke-width="1"/>
<circle cx="152.3" cy="304.6" r="1.8" fill="#5e1529" stroke="#111" stroke-width="1"/>
<circle cx="152.3" cy="310.26" r="1.8" fill="#5e1529" stroke="#111" stroke-width="1"/>
<circle cx="152.3" cy="318.86" r="1.8" fill="#ffffff" stroke="#111" stroke-width="1"/>
<circle cx="148.8" cy="321.48" r="1.8" fill="#ffffff" stroke="#111" stroke-width="1"/>
<circle cx="155.8" cy="321.48" r="1.8" fill="#ffffff" stroke="#111" stroke-width="1"/>
<circle cx="150.8" cy="323.05" r="1.8" fill="#ffffff" stroke="#111" stroke-width="1"/>
<circle cx="153.8" cy="322" r="1.8" fill="#ffffff" stroke="#111" stroke-width="1"/>
<line x1="36.5" y1="239.1" x2="36.5" y2="326.8" stroke="#111" stroke-width="1.3"/>
<line x1="35.9" y1="326.2" x2="162.1" y2="326.2" stroke="#24161a" stroke-width="1.25"/>
<line x1="33.1" y1="326.2" x2="36.5" y2="326.2" stroke="#111" stroke-width="1"/>
<text x="29.5" y="328.2" text-anchor="end" class="tk" transform="translate(0 328.2) scale(1 0.92) translate(0 -328.2)">0</text>
<line x1="33.1" y1="305.22" x2="36.5" y2="305.22" stroke="#111" stroke-width="1"/>
<text x="29.5" y="307.22" text-anchor="end" class="tk" transform="translate(0 307.22) scale(1 0.92) translate(0 -307.22)">20</text>
<line x1="33.1" y1="284.25" x2="36.5" y2="284.25" stroke="#111" stroke-width="1"/>
<text x="29.5" y="286.25" text-anchor="end" class="tk" transform="translate(0 286.25) scale(1 0.92) translate(0 -286.25)">40</text>
<line x1="33.1" y1="263.27" x2="36.5" y2="263.27" stroke="#111" stroke-width="1"/>
<text x="29.5" y="265.27" text-anchor="end" class="tk" transform="translate(0 265.27) scale(1 0.92) translate(0 -265.27)">60</text>
<line x1="33.1" y1="242.3" x2="36.5" y2="242.3" stroke="#111" stroke-width="1"/>
<text x="29.5" y="244.3" text-anchor="end" class="tk" transform="translate(0 244.3) scale(1 0.92) translate(0 -244.3)">80</text>
<line x1="45.5" y1="326.2" x2="45.5" y2="329.4" stroke="#111" stroke-width="0.9"/>
<text class="xl" text-anchor="end" transform="translate(48.5 334.6) rotate(-45)">+/+</text>
<line x1="58.85" y1="326.2" x2="58.85" y2="329.4" stroke="#111" stroke-width="0.9"/>
<text class="xl" text-anchor="end" transform="translate(61.85 334.6) rotate(-45)"><tspan font-style="italic">frs</tspan>/+</text>
<line x1="72.2" y1="326.2" x2="72.2" y2="329.4" stroke="#111" stroke-width="0.9"/>
<text class="xl" text-anchor="end" transform="translate(75.2 334.6) rotate(-45)"><tspan font-style="italic">frs</tspan>/<tspan font-style="italic">frs</tspan></text>
<line x1="85.55" y1="326.2" x2="85.55" y2="329.4" stroke="#111" stroke-width="0.9"/>
<text class="xl" text-anchor="end" transform="translate(88.55 334.6) rotate(-45)">+/+</text>
<line x1="98.9" y1="326.2" x2="98.9" y2="329.4" stroke="#111" stroke-width="0.9"/>
<text class="xl" text-anchor="end" transform="translate(101.9 334.6) rotate(-45)"><tspan font-style="italic">frs</tspan>/+</text>
<line x1="112.25" y1="326.2" x2="112.25" y2="329.4" stroke="#111" stroke-width="0.9"/>
<text class="xl" text-anchor="end" transform="translate(115.25 334.6) rotate(-45)"><tspan font-style="italic">frs</tspan>/<tspan font-style="italic">frs</tspan></text>
<line x1="125.6" y1="326.2" x2="125.6" y2="329.4" stroke="#111" stroke-width="0.9"/>
<text class="xl" text-anchor="end" transform="translate(128.6 334.6) rotate(-45)">+/+</text>
<line x1="138.95" y1="326.2" x2="138.95" y2="329.4" stroke="#111" stroke-width="0.9"/>
<text class="xl" text-anchor="end" transform="translate(141.95 334.6) rotate(-45)"><tspan font-style="italic">frs</tspan>/+</text>
<line x1="152.3" y1="326.2" x2="152.3" y2="329.4" stroke="#111" stroke-width="0.9"/>
<text class="xl" text-anchor="end" transform="translate(155.3 334.6) rotate(-45)"><tspan font-style="italic">frs</tspan>/<tspan font-style="italic">frs</tspan></text>
<line x1="77.15" y1="351.4" x2="113.15" y2="351.4" stroke="#1a1a1a" stroke-width="1.2"/>
<text class="gl" x="0" y="0" text-anchor="middle" fill="#b3355a" stroke="#b3355a" transform="translate(95.15 360.6) scale(1 0.92)">+10uM Iron</text>
<line x1="117.2" y1="351.4" x2="153.2" y2="351.4" stroke="#1a1a1a" stroke-width="1.2"/>
<text class="gl" x="0" y="0" text-anchor="middle" fill="#5a4843" stroke="#5a4843" transform="translate(135.2 360.6) scale(1 0.92)">+15uM Iron</text>
<text class="yl" text-anchor="middle" transform="translate(15.9 283.85) rotate(-90) scale(0.86 1)">% lcr:GFP+ in G2/M phase</text>
<path d="M45.5 253.4V250.4H72.2V253.4" fill="none" stroke="#3a3a3a" stroke-width="0.9"/>
<text class="st" x="58.85" y="249.5" text-anchor="middle">***</text>
<path d="M58.85 243.3V240.3H72.2V243.3" fill="none" stroke="#3a3a3a" stroke-width="0.9"/>
<text class="st" x="65.53" y="239.4" text-anchor="middle">***</text>
<path d="M72.2 234.6V231.6H112.25V234.6" fill="none" stroke="#3a3a3a" stroke-width="0.9"/>
<text class="st" x="92.22" y="230.7" text-anchor="middle">***</text>
<path d="M45.5 224.8V221.8H112.25V224.8" fill="none" stroke="#3a3a3a" stroke-width="0.9"/>
<text class="st" x="78.88" y="220.9" text-anchor="middle">**</text>
<path d="M72.2 214.4V211.4H152.3V214.4" fill="none" stroke="#3a3a3a" stroke-width="0.9"/>
<text class="st" x="112.25" y="210.5" text-anchor="middle">***</text>
<text class="pl" x="7.6" y="204.2">D</text>
<rect x="216" y="322.42" width="9" height="3.78" fill="#4a5968"/>
<rect x="229.41" y="310.26" width="9" height="15.94" fill="#4a5968"/>
<rect x="242.82" y="321.17" width="9" height="5.03" fill="#4a5968"/>
<rect x="256.23" y="323.26" width="9" height="2.94" fill="#9199a2"/>
<rect x="269.64" y="324.1" width="9" height="2.1" fill="#9199a2"/>
<rect x="283.05" y="324.52" width="9" height="1.68" fill="#9199a2"/>
<rect x="296.46" y="316.97" width="9" height="9.23" fill="#d9dce0"/>
<rect x="309.87" y="296.42" width="9" height="29.78" fill="#d9dce0"/>
<rect x="323.28" y="319.49" width="9" height="6.71" fill="#d9dce0"/>
<line x1="207" y1="320.75" x2="337.58" y2="320.75" stroke="#c8909b" stroke-width="1.1" stroke-dasharray="2.1 2.7"/>
<line x1="207" y1="322.84" x2="337.58" y2="322.84" stroke="#c8909b" stroke-width="1.1" stroke-dasharray="2.1 2.7"/>
<line x1="233.91" y1="322.84" x2="233.91" y2="297.67" stroke="#505050" stroke-width="1.1"/>
<line x1="231.31" y1="297.67" x2="236.51" y2="297.67" stroke="#505050" stroke-width="0.9"/>
<line x1="231.31" y1="322.84" x2="236.51" y2="322.84" stroke="#505050" stroke-width="0.9"/>
<line x1="314.37" y1="310.26" x2="314.37" y2="280.06" stroke="#505050" stroke-width="1.1"/>
<line x1="311.77" y1="280.06" x2="316.97" y2="280.06" stroke="#505050" stroke-width="0.9"/>
<line x1="311.77" y1="310.26" x2="316.97" y2="310.26" stroke="#505050" stroke-width="0.9"/>
<circle cx="218" cy="320.75" r="1.8" fill="#5e1529" stroke="#111" stroke-width="1"/>
<circle cx="223" cy="321.17" r="1.8" fill="#5e1529" stroke="#111" stroke-width="1"/>
<circle cx="220.5" cy="322.84" r="1.8" fill="#5e1529" stroke="#111" stroke-width="1"/>
<circle cx="217.5" cy="324.1" r="1.8" fill="#5e1529" stroke="#111" stroke-width="1"/>
<circle cx="223.5" cy="324.1" r="1.8" fill="#5e1529" stroke="#111" stroke-width="1"/>
<circle cx="233.91" cy="290.54" r="1.8" fill="#5e1529" stroke="#111" stroke-width="1"/>
<circle cx="233.91" cy="295.16" r="1.8" fill="#5e1529" stroke="#111" stroke-width="1"/>
<circle cx="233.91" cy="303.97" r="1.8" fill="#5e1529" stroke="#111" stroke-width="1"/>
<circle cx="230.91" cy="322" r="1.8" fill="#5e1529" stroke="#111" stroke-width="1"/>
<circle cx="236.91" cy="322" r="1.8" fill="#ffffff" stroke="#111" stroke-width="1"/>
<circle cx="233.91" cy="326.2" r="1.8" fill="#ffffff" stroke="#111" stroke-width="1"/>
<circle cx="247.32" cy="318.23" r="1.8" fill="#5e1529" stroke="#111" stroke-width="1"/>
<circle cx="244.32" cy="319.91" r="1.8" fill="#5e1529" stroke="#111" stroke-width="1"/>
<circle cx="250.32" cy="320.33" r="1.8" fill="#5e1529" stroke="#111" stroke-width="1"/>
<circle cx="245.32" cy="322.84" r="1.8" fill="#5e1529" stroke="#111" stroke-width="1"/>
<circle cx="249.32" cy="323.26" r="1.8" fill="#5e1529" stroke="#111" stroke-width="1"/>
<circle cx="247.32" cy="324.52" r="1.8" fill="#ffffff" stroke="#111" stroke-width="1"/>
<circle cx="260.73" cy="317.39" r="1.8" fill="#5e1529" stroke="#111" stroke-width="1"/>
<circle cx="257.73" cy="322.42" r="1.8" fill="#5e1529" stroke="#111" stroke-width="1"/>
<circle cx="263.73" cy="322.42" r="1.8" fill="#5e1529" stroke="#111" stroke-width="1"/>
<circle cx="259.23" cy="324.94" r="1.8" fill="#5e1529" stroke="#111" stroke-width="1"/>
<circle cx="262.23" cy="324.94" r="1.8" fill="#5e1529" stroke="#111" stroke-width="1"/>
<circle cx="271.64" cy="322.42" r="1.8" fill="#5e1529" stroke="#111" stroke-width="1"/>
<circle cx="276.64" cy="322.84" r="1.8" fill="#5e1529" stroke="#111" stroke-width="1"/>
<circle cx="274.14" cy="324.1" r="1.8" fill="#5e1529" stroke="#111" stroke-width="1"/>
<circle cx="271.14" cy="324.94" r="1.8" fill="#5e1529" stroke="#111" stroke-width="1"/>
<circle cx="277.14" cy="324.94" r="1.8" fill="#5e1529" stroke="#111" stroke-width="1"/>
<circle cx="285.05" cy="323.26" r="1.8" fill="#5e1529" stroke="#111" stroke-width="1"/>
<circle cx="290.05" cy="323.68" r="1.8" fill="#5e1529" stroke="#111" stroke-width="1"/>
<circle cx="287.55" cy="324.52" r="1.8" fill="#5e1529" stroke="#111" stroke-width="1"/>
<circle cx="284.55" cy="325.36" r="1.8" fill="#5e1529" stroke="#111" stroke-width="1"/>
<circle cx="290.55" cy="325.36" r="1.8" fill="#5e1529" stroke="#111" stroke-width="1"/>
<circle cx="298.96" cy="314.45" r="1.8" fill="#5e1529" stroke="#111" stroke-width="1"/>
<circle cx="303.96" cy="316.55" r="1.8" fill="#5e1529" stroke="#111" stroke-width="1"/>
<circle cx="298.96" cy="319.49" r="1.8" fill="#5e1529" stroke="#111" stroke-width="1"/>
<circle cx="311.37" cy="284.25" r="1.8" fill="#5e1529" stroke="#111" stroke-width="1"/>
<circle cx="317.37" cy="285.51" r="1.8" fill="#5e1529" stroke="#111" stroke-width="1"/>
<circle cx="311.37" cy="289.7" r="1.8" fill="#5e1529" stroke="#111" stroke-width="1"/>
<circle cx="317.37" cy="293.06" r="1.8" fill="#5e1529" stroke="#111" stroke-width="1"/>
<circle cx="314.37" cy="321.59" r="1.8" fill="#ffffff" stroke="#111" stroke-width="1"/>
<circle cx="327.78" cy="313.62" r="1.8" fill="#5e1529" stroke="#111" stroke-width="1"/>
<circle cx="325.28" cy="318.65" r="1.8" fill="#5e1529" stroke="#111" stroke-width="1"/>
<circle cx="330.28" cy="318.65" r="1.8" fill="#5e1529" stroke="#111" stroke-width="1"/>
<circle cx="327.78" cy="320.33" r="1.8" fill="#5e1529" stroke="#111" stroke-width="1"/>
<circle cx="324.28" cy="322" r="1.8" fill="#ffffff" stroke="#111" stroke-width="1"/>
<circle cx="331.28" cy="322" r="1.8" fill="#ffffff" stroke="#111" stroke-width="1"/>
<line x1="211.5" y1="239.1" x2="211.5" y2="326.8" stroke="#111" stroke-width="1.3"/>
<line x1="210.9" y1="326.2" x2="337.58" y2="326.2" stroke="#24161a" stroke-width="1.25"/>
<line x1="208.1" y1="326.2" x2="211.5" y2="326.2" stroke="#111" stroke-width="1"/>
<text x="204.5" y="328.2" text-anchor="end" class="tk" transform="translate(0 328.2) scale(1 0.92) translate(0 -328.2)">0</text>
<line x1="208.1" y1="305.22" x2="211.5" y2="305.22" stroke="#111" stroke-width="1"/>
<text x="204.5" y="307.22" text-anchor="end" class="tk" transform="translate(0 307.22) scale(1 0.92) translate(0 -307.22)">5</text>
<line x1="208.1" y1="284.25" x2="211.5" y2="284.25" stroke="#111" stroke-width="1"/>
<text x="204.5" y="286.25" text-anchor="end" class="tk" transform="translate(0 286.25) scale(1 0.92) translate(0 -286.25)">10</text>
<line x1="208.1" y1="263.27" x2="211.5" y2="263.27" stroke="#111" stroke-width="1"/>
<text x="204.5" y="265.27" text-anchor="end" class="tk" transform="translate(0 265.27) scale(1 0.92) translate(0 -265.27)">15</text>
<line x1="208.1" y1="242.3" x2="211.5" y2="242.3" stroke="#111" stroke-width="1"/>
<text x="204.5" y="244.3" text-anchor="end" class="tk" transform="translate(0 244.3) scale(1 0.92) translate(0 -244.3)">20</text>
<line x1="220.5" y1="326.2" x2="220.5" y2="329.4" stroke="#111" stroke-width="0.9"/>
<text class="xl" text-anchor="end" transform="translate(223.5 334.6) rotate(-45)">+/+</text>
<line x1="233.91" y1="326.2" x2="233.91" y2="329.4" stroke="#111" stroke-width="0.9"/>
<text class="xl" text-anchor="end" transform="translate(236.91 334.6) rotate(-45)"><tspan font-style="italic">frs</tspan>/+</text>
<line x1="247.32" y1="326.2" x2="247.32" y2="329.4" stroke="#111" stroke-width="0.9"/>
<text class="xl" text-anchor="end" transform="translate(250.32 334.6) rotate(-45)"><tspan font-style="italic">frs</tspan>/<tspan font-style="italic">frs</tspan></text>
<line x1="260.73" y1="326.2" x2="260.73" y2="329.4" stroke="#111" stroke-width="0.9"/>
<text class="xl" text-anchor="end" transform="translate(263.73 334.6) rotate(-45)">+/+</text>
<line x1="274.14" y1="326.2" x2="274.14" y2="329.4" stroke="#111" stroke-width="0.9"/>
<text class="xl" text-anchor="end" transform="translate(277.14 334.6) rotate(-45)"><tspan font-style="italic">frs</tspan>/+</text>
<line x1="287.55" y1="326.2" x2="287.55" y2="329.4" stroke="#111" stroke-width="0.9"/>
<text class="xl" text-anchor="end" transform="translate(290.55 334.6) rotate(-45)"><tspan font-style="italic">frs</tspan>/<tspan font-style="italic">frs</tspan></text>
<line x1="300.96" y1="326.2" x2="300.96" y2="329.4" stroke="#111" stroke-width="0.9"/>
<text class="xl" text-anchor="end" transform="translate(303.96 334.6) rotate(-45)">+/+</text>
<line x1="314.37" y1="326.2" x2="314.37" y2="329.4" stroke="#111" stroke-width="0.9"/>
<text class="xl" text-anchor="end" transform="translate(317.37 334.6) rotate(-45)"><tspan font-style="italic">frs</tspan>/+</text>
<line x1="327.78" y1="326.2" x2="327.78" y2="329.4" stroke="#111" stroke-width="0.9"/>
<text class="xl" text-anchor="end" transform="translate(330.78 334.6) rotate(-45)"><tspan font-style="italic">frs</tspan>/<tspan font-style="italic">frs</tspan></text>
<line x1="252.33" y1="351.4" x2="288.45" y2="351.4" stroke="#1a1a1a" stroke-width="1.2"/>
<text class="gl" x="0" y="0" text-anchor="middle" fill="#b3355a" stroke="#b3355a" transform="translate(270.39 360.6) scale(1 0.92)">+10uM Iron</text>
<line x1="292.56" y1="351.4" x2="328.68" y2="351.4" stroke="#1a1a1a" stroke-width="1.2"/>
<text class="gl" x="0" y="0" text-anchor="middle" fill="#5a4843" stroke="#5a4843" transform="translate(310.62 360.6) scale(1 0.92)">+15uM Iron</text>
<text class="yl" text-anchor="middle" transform="translate(191.9 286.15) rotate(-90) scale(0.86 1)">% lcr:GFP– in sub-G0/G1 phase</text>
<text class="pl" x="183.6" y="204.1">E</text>
<rect x="391" y="273.34" width="9" height="52.86" fill="#4a5968"/>
<rect x="404.42" y="267.05" width="9" height="59.15" fill="#4a5968"/>
<rect x="417.84" y="284" width="9" height="42.2" fill="#4a5968"/>
<rect x="431.26" y="270.32" width="9" height="55.88" fill="#9199a2"/>
<rect x="444.68" y="268.73" width="9" height="57.47" fill="#9199a2"/>
<rect x="458.1" y="270.24" width="9" height="55.96" fill="#9199a2"/>
<rect x="471.52" y="267.05" width="9" height="59.15" fill="#d9dce0"/>
<rect x="484.94" y="280.47" width="9" height="45.73" fill="#d9dce0"/>
<rect x="498.36" y="268.06" width="9" height="58.14" fill="#d9dce0"/>
<line x1="382.2" y1="266.63" x2="512.66" y2="266.63" stroke="#c8909b" stroke-width="1.1" stroke-dasharray="2.1 2.7"/>
<line x1="382.2" y1="279.22" x2="512.66" y2="279.22" stroke="#c8909b" stroke-width="1.1" stroke-dasharray="2.1 2.7"/>
<line x1="395.5" y1="279.22" x2="395.5" y2="267.47" stroke="#505050" stroke-width="1.1"/>
<line x1="392.9" y1="267.47" x2="398.1" y2="267.47" stroke="#505050" stroke-width="0.9"/>
<line x1="392.9" y1="279.22" x2="398.1" y2="279.22" stroke="#505050" stroke-width="0.9"/>
<line x1="408.92" y1="272.5" x2="408.92" y2="262.44" stroke="#505050" stroke-width="1.1"/>
<line x1="406.32" y1="262.44" x2="411.52" y2="262.44" stroke="#505050" stroke-width="0.9"/>
<line x1="406.32" y1="272.5" x2="411.52" y2="272.5" stroke="#505050" stroke-width="0.9"/>
<line x1="422.34" y1="292.64" x2="422.34" y2="275.02" stroke="#505050" stroke-width="1.1"/>
<line x1="419.74" y1="275.02" x2="424.94" y2="275.02" stroke="#505050" stroke-width="0.9"/>
<line x1="419.74" y1="292.64" x2="424.94" y2="292.64" stroke="#505050" stroke-width="0.9"/>
<line x1="435.76" y1="277.54" x2="435.76" y2="264.11" stroke="#505050" stroke-width="1.1"/>
<line x1="433.16" y1="264.11" x2="438.36" y2="264.11" stroke="#505050" stroke-width="0.9"/>
<line x1="433.16" y1="277.54" x2="438.36" y2="277.54" stroke="#505050" stroke-width="0.9"/>
<line x1="449.18" y1="272.5" x2="449.18" y2="264.95" stroke="#505050" stroke-width="1.1"/>
<line x1="446.58" y1="264.95" x2="451.78" y2="264.95" stroke="#505050" stroke-width="0.9"/>
<line x1="446.58" y1="272.5" x2="451.78" y2="272.5" stroke="#505050" stroke-width="0.9"/>
<line x1="462.6" y1="275.86" x2="462.6" y2="265.79" stroke="#505050" stroke-width="1.1"/>
<line x1="460" y1="265.79" x2="465.2" y2="265.79" stroke="#505050" stroke-width="0.9"/>
<line x1="460" y1="275.86" x2="465.2" y2="275.86" stroke="#505050" stroke-width="0.9"/>
<line x1="489.44" y1="286.77" x2="489.44" y2="274.18" stroke="#505050" stroke-width="1.1"/>
<line x1="486.84" y1="274.18" x2="492.04" y2="274.18" stroke="#505050" stroke-width="0.9"/>
<line x1="486.84" y1="286.77" x2="492.04" y2="286.77" stroke="#505050" stroke-width="0.9"/>
<line x1="502.86" y1="274.18" x2="502.86" y2="261.6" stroke="#505050" stroke-width="1.1"/>
<line x1="500.26" y1="261.6" x2="505.46" y2="261.6" stroke="#505050" stroke-width="0.9"/>
<line x1="500.26" y1="274.18" x2="505.46" y2="274.18" stroke="#505050" stroke-width="0.9"/>
<circle cx="395.5" cy="263.27" r="1.8" fill="#5e1529" stroke="#111" stroke-width="1"/>
<circle cx="395.5" cy="267.47" r="1.8" fill="#5e1529" stroke="#111" stroke-width="1"/>
<circle cx="392" cy="276.7" r="1.8" fill="#ffffff" stroke="#111" stroke-width="1"/>
<circle cx="395.5" cy="275.02" r="1.8" fill="#ffffff" stroke="#111" stroke-width="1"/>
<circle cx="399" cy="276.7" r="1.8" fill="#ffffff" stroke="#111" stroke-width="1"/>
<circle cx="408.92" cy="263.69" r="1.8" fill="#5e1529" stroke="#111" stroke-width="1"/>
<circle cx="405.62" cy="268.31" r="1.8" fill="#ffffff" stroke="#111" stroke-width="1"/>
<circle cx="412.22" cy="268.31" r="1.8" fill="#ffffff" stroke="#111" stroke-width="1"/>
<circle cx="408.92" cy="278.8" r="1.8" fill="#ffffff" stroke="#111" stroke-width="1"/>
<circle cx="419.34" cy="270.83" r="1.8" fill="#ffffff" stroke="#111" stroke-width="1"/>
<circle cx="425.34" cy="270.83" r="1.8" fill="#ffffff" stroke="#111" stroke-width="1"/>
<circle cx="419.34" cy="283.41" r="1.8" fill="#5e1529" stroke="#111" stroke-width="1"/>
<circle cx="425.34" cy="283.41" r="1.8" fill="#5e1529" stroke="#111" stroke-width="1"/>
<circle cx="419.34" cy="291.38" r="1.8" fill="#5e1529" stroke="#111" stroke-width="1"/>
<circle cx="425.34" cy="292.64" r="1.8" fill="#5e1529" stroke="#111" stroke-width="1"/>
<circle cx="422.34" cy="296.83" r="1.8" fill="#5e1529" stroke="#111" stroke-width="1"/>
<circle cx="435.76" cy="262.44" r="1.8" fill="#5e1529" stroke="#111" stroke-width="1"/>
<circle cx="432.26" cy="270.83" r="1.8" fill="#ffffff" stroke="#111" stroke-width="1"/>
<circle cx="435.76" cy="270.83" r="1.8" fill="#ffffff" stroke="#111" stroke-width="1"/>
<circle cx="439.26" cy="270.83" r="1.8" fill="#ffffff" stroke="#111" stroke-width="1"/>
<circle cx="435.76" cy="274.18" r="1.8" fill="#ffffff" stroke="#111" stroke-width="1"/>
<circle cx="433.76" cy="272.5" r="1.8" fill="#ffffff" stroke="#111" stroke-width="1"/>
<circle cx="435.76" cy="282.99" r="1.8" fill="#5e1529" stroke="#111" stroke-width="1"/>
<circle cx="449.18" cy="264.95" r="1.8" fill="#5e1529" stroke="#111" stroke-width="1"/>
<circle cx="446.18" cy="269.15" r="1.8" fill="#ffffff" stroke="#111" stroke-width="1"/>
<circle cx="452.18" cy="269.15" r="1.8" fill="#ffffff" stroke="#111" stroke-width="1"/>
<circle cx="449.18" cy="275.02" r="1.8" fill="#ffffff" stroke="#111" stroke-width="1"/>
<circle cx="459.1" cy="271.66" r="1.8" fill="#ffffff" stroke="#111" stroke-width="1"/>
<circle cx="462.6" cy="271.66" r="1.8" fill="#ffffff" stroke="#111" stroke-width="1"/>
<circle cx="466.1" cy="271.66" r="1.8" fill="#ffffff" stroke="#111" stroke-width="1"/>
<circle cx="462.6" cy="273.34" r="1.8" fill="#ffffff" stroke="#111" stroke-width="1"/>
<circle cx="462.6" cy="282.57" r="1.8" fill="#5e1529" stroke="#111" stroke-width="1"/>
<circle cx="476.02" cy="260.34" r="1.8" fill="#5e1529" stroke="#111" stroke-width="1"/>
<circle cx="479.02" cy="264.11" r="1.8" fill="#5e1529" stroke="#111" stroke-width="1"/>
<circle cx="473.02" cy="266.63" r="1.8" fill="#ffffff" stroke="#111" stroke-width="1"/>
<circle cx="489.44" cy="272.5" r="1.8" fill="#ffffff" stroke="#111" stroke-width="1"/>
<circle cx="486.44" cy="280.06" r="1.8" fill="#5e1529" stroke="#111" stroke-width="1"/>
<circle cx="492.44" cy="280.06" r="1.8" fill="#5e1529" stroke="#111" stroke-width="1"/>
<circle cx="486.44" cy="286.77" r="1.8" fill="#5e1529" stroke="#111" stroke-width="1"/>
<circle cx="492.44" cy="284.25" r="1.8" fill="#5e1529" stroke="#111" stroke-width="1"/>
<circle cx="489.44" cy="287.61" r="1.8" fill="#5e1529" stroke="#111" stroke-width="1"/>
<circle cx="500.36" cy="259.08" r="1.8" fill="#5e1529" stroke="#111" stroke-width="1"/>
<circle cx="504.86" cy="259.92" r="1.8" fill="#5e1529" stroke="#111" stroke-width="1"/>
<circle cx="500.36" cy="262.44" r="1.8" fill="#5e1529" stroke="#111" stroke-width="1"/>
<circle cx="505.86" cy="264.95" r="1.8" fill="#5e1529" stroke="#111" stroke-width="1"/>
<circle cx="502.86" cy="267.47" r="1.8" fill="#5e1529" stroke="#111" stroke-width="1"/>
<circle cx="502.86" cy="278.38" r="1.8" fill="#ffffff" stroke="#111" stroke-width="1"/>
<line x1="386.7" y1="239.1" x2="386.7" y2="326.8" stroke="#111" stroke-width="1.3"/>
<line x1="386.1" y1="326.2" x2="512.66" y2="326.2" stroke="#24161a" stroke-width="1.25"/>
<line x1="383.3" y1="326.2" x2="386.7" y2="326.2" stroke="#111" stroke-width="1"/>
<text x="379.7" y="328.2" text-anchor="end" class="tk" transform="translate(0 328.2) scale(1 0.92) translate(0 -328.2)">0</text>
<line x1="383.3" y1="309.42" x2="386.7" y2="309.42" stroke="#111" stroke-width="1"/>
<text x="379.7" y="311.42" text-anchor="end" class="tk" transform="translate(0 311.42) scale(1 0.92) translate(0 -311.42)">20</text>
<line x1="383.3" y1="292.64" x2="386.7" y2="292.64" stroke="#111" stroke-width="1"/>
<text x="379.7" y="294.64" text-anchor="end" class="tk" transform="translate(0 294.64) scale(1 0.92) translate(0 -294.64)">40</text>
<line x1="383.3" y1="275.86" x2="386.7" y2="275.86" stroke="#111" stroke-width="1"/>
<text x="379.7" y="277.86" text-anchor="end" class="tk" transform="translate(0 277.86) scale(1 0.92) translate(0 -277.86)">60</text>
<line x1="383.3" y1="259.08" x2="386.7" y2="259.08" stroke="#111" stroke-width="1"/>
<text x="379.7" y="261.08" text-anchor="end" class="tk" transform="translate(0 261.08) scale(1 0.92) translate(0 -261.08)">80</text>
<line x1="383.3" y1="242.3" x2="386.7" y2="242.3" stroke="#111" stroke-width="1"/>
<text x="379.7" y="244.3" text-anchor="end" class="tk" transform="translate(0 244.3) scale(1 0.92) translate(0 -244.3)">100</text>
<line x1="395.5" y1="326.2" x2="395.5" y2="329.4" stroke="#111" stroke-width="0.9"/>
<text class="xl" text-anchor="end" transform="translate(398.5 334.6) rotate(-45)">+/+</text>
<line x1="408.92" y1="326.2" x2="408.92" y2="329.4" stroke="#111" stroke-width="0.9"/>
<text class="xl" text-anchor="end" transform="translate(411.92 334.6) rotate(-45)"><tspan font-style="italic">frs</tspan>/+</text>
<line x1="422.34" y1="326.2" x2="422.34" y2="329.4" stroke="#111" stroke-width="0.9"/>
<text class="xl" text-anchor="end" transform="translate(425.34 334.6) rotate(-45)"><tspan font-style="italic">frs</tspan>/<tspan font-style="italic">frs</tspan></text>
<line x1="435.76" y1="326.2" x2="435.76" y2="329.4" stroke="#111" stroke-width="0.9"/>
<text class="xl" text-anchor="end" transform="translate(438.76 334.6) rotate(-45)">+/+</text>
<line x1="449.18" y1="326.2" x2="449.18" y2="329.4" stroke="#111" stroke-width="0.9"/>
<text class="xl" text-anchor="end" transform="translate(452.18 334.6) rotate(-45)"><tspan font-style="italic">frs</tspan>/+</text>
<line x1="462.6" y1="326.2" x2="462.6" y2="329.4" stroke="#111" stroke-width="0.9"/>
<text class="xl" text-anchor="end" transform="translate(465.6 334.6) rotate(-45)"><tspan font-style="italic">frs</tspan>/<tspan font-style="italic">frs</tspan></text>
<line x1="476.02" y1="326.2" x2="476.02" y2="329.4" stroke="#111" stroke-width="0.9"/>
<text class="xl" text-anchor="end" transform="translate(479.02 334.6) rotate(-45)">+/+</text>
<line x1="489.44" y1="326.2" x2="489.44" y2="329.4" stroke="#111" stroke-width="0.9"/>
<text class="xl" text-anchor="end" transform="translate(492.44 334.6) rotate(-45)"><tspan font-style="italic">frs</tspan>/+</text>
<line x1="502.86" y1="326.2" x2="502.86" y2="329.4" stroke="#111" stroke-width="0.9"/>
<text class="xl" text-anchor="end" transform="translate(505.86 334.6) rotate(-45)"><tspan font-style="italic">frs</tspan>/<tspan font-style="italic">frs</tspan></text>
<line x1="427.36" y1="351.4" x2="463.5" y2="351.4" stroke="#1a1a1a" stroke-width="1.2"/>
<text class="gl" x="0" y="0" text-anchor="middle" fill="#b3355a" stroke="#b3355a" transform="translate(445.43 360.6) scale(1 0.92)">+10uM Iron</text>
<line x1="467.62" y1="351.4" x2="503.76" y2="351.4" stroke="#1a1a1a" stroke-width="1.2"/>
<text class="gl" x="0" y="0" text-anchor="middle" fill="#5a4843" stroke="#5a4843" transform="translate(485.69 360.6) scale(1 0.92)">+15uM Iron</text>
<text class="yl" text-anchor="middle" transform="translate(361.6 282.65) rotate(-90) scale(0.84 1)">% lcr:GFP– in G0/G1 phase</text>
<path d="M408.92 256.6V253.6H422.34V256.6" fill="none" stroke="#3a3a3a" stroke-width="0.9"/>
<text class="st" x="415.63" y="252.7" text-anchor="middle">**</text>
<path d="M422.34 247.8V244.8H462.6V247.8" fill="none" stroke="#3a3a3a" stroke-width="0.9"/>
<text class="st" x="442.47" y="243.9" text-anchor="middle">**</text>
<path d="M422.34 237.4V234.4H502.86V237.4" fill="none" stroke="#3a3a3a" stroke-width="0.9"/>
<text class="st" x="462.6" y="233.5" text-anchor="middle">***</text>
<text class="pl" x="354" y="204.1">F</text>
<rect x="41" y="487.87" width="9" height="24.33" fill="#4a5968"/>
<rect x="54.41" y="495" width="9" height="17.2" fill="#4a5968"/>
<rect x="67.82" y="475.7" width="9" height="36.5" fill="#4a5968"/>
<rect x="81.23" y="477.38" width="9" height="34.82" fill="#9199a2"/>
<rect x="94.64" y="469.83" width="9" height="42.37" fill="#9199a2"/>
<rect x="108.05" y="471.93" width="9" height="40.27" fill="#9199a2"/>
<rect x="121.46" y="505.07" width="9" height="7.13" fill="#d9dce0"/>
<rect x="134.87" y="497.1" width="9" height="15.1" fill="#d9dce0"/>
<rect x="148.28" y="487.87" width="9" height="24.33" fill="#d9dce0"/>
<line x1="32" y1="478.64" x2="162.58" y2="478.64" stroke="#c8909b" stroke-width="1.1" stroke-dasharray="2.1 2.7"/>
<line x1="32" y1="495" x2="162.58" y2="495" stroke="#c8909b" stroke-width="1.1" stroke-dasharray="2.1 2.7"/>
<line x1="45.5" y1="493.32" x2="45.5" y2="481.16" stroke="#505050" stroke-width="1.1"/>
<line x1="42.9" y1="481.16" x2="48.1" y2="481.16" stroke="#505050" stroke-width="0.9"/>
<line x1="42.9" y1="493.32" x2="48.1" y2="493.32" stroke="#505050" stroke-width="0.9"/>
<line x1="58.91" y1="508.01" x2="58.91" y2="481.16" stroke="#505050" stroke-width="1.1"/>
<line x1="56.31" y1="481.16" x2="61.51" y2="481.16" stroke="#505050" stroke-width="0.9"/>
<line x1="56.31" y1="508.01" x2="61.51" y2="508.01" stroke="#505050" stroke-width="0.9"/>
<line x1="72.32" y1="490.39" x2="72.32" y2="460.18" stroke="#505050" stroke-width="1.1"/>
<line x1="69.72" y1="460.18" x2="74.92" y2="460.18" stroke="#505050" stroke-width="0.9"/>
<line x1="69.72" y1="490.39" x2="74.92" y2="490.39" stroke="#505050" stroke-width="0.9"/>
<line x1="85.73" y1="492.9" x2="85.73" y2="461.02" stroke="#505050" stroke-width="1.1"/>
<line x1="83.13" y1="461.02" x2="88.33" y2="461.02" stroke="#505050" stroke-width="0.9"/>
<line x1="83.13" y1="492.9" x2="88.33" y2="492.9" stroke="#505050" stroke-width="0.9"/>
<line x1="99.14" y1="486.19" x2="99.14" y2="451.37" stroke="#505050" stroke-width="1.1"/>
<line x1="96.54" y1="451.37" x2="101.74" y2="451.37" stroke="#505050" stroke-width="0.9"/>
<line x1="96.54" y1="486.19" x2="101.74" y2="486.19" stroke="#505050" stroke-width="0.9"/>
<line x1="112.55" y1="480.32" x2="112.55" y2="463.12" stroke="#505050" stroke-width="1.1"/>
<line x1="109.95" y1="463.12" x2="115.15" y2="463.12" stroke="#505050" stroke-width="0.9"/>
<line x1="109.95" y1="480.32" x2="115.15" y2="480.32" stroke="#505050" stroke-width="0.9"/>
<line x1="139.37" y1="500.45" x2="139.37" y2="489.55" stroke="#505050" stroke-width="1.1"/>
<line x1="136.77" y1="489.55" x2="141.97" y2="489.55" stroke="#505050" stroke-width="0.9"/>
<line x1="136.77" y1="500.45" x2="141.97" y2="500.45" stroke="#505050" stroke-width="0.9"/>
<line x1="152.78" y1="501.71" x2="152.78" y2="468.99" stroke="#505050" stroke-width="1.1"/>
<line x1="150.18" y1="468.99" x2="155.38" y2="468.99" stroke="#505050" stroke-width="0.9"/>
<line x1="150.18" y1="501.71" x2="155.38" y2="501.71" stroke="#505050" stroke-width="0.9"/>
<circle cx="42.4" cy="479.06" r="1.8" fill="#ffffff" stroke="#111" stroke-width="1"/>
<circle cx="45.5" cy="479.06" r="1.8" fill="#ffffff" stroke="#111" stroke-width="1"/>
<circle cx="48.6" cy="479.06" r="1.8" fill="#ffffff" stroke="#111" stroke-width="1"/>
<circle cx="45.5" cy="482.84" r="1.8" fill="#ffffff" stroke="#111" stroke-width="1"/>
<circle cx="42.7" cy="496.26" r="1.8" fill="#5e1529" stroke="#111" stroke-width="1"/>
<circle cx="48.3" cy="496.26" r="1.8" fill="#5e1529" stroke="#111" stroke-width="1"/>
<circle cx="58.91" cy="469.83" r="1.8" fill="#5e1529" stroke="#111" stroke-width="1"/>
<circle cx="58.91" cy="491.64" r="1.8" fill="#ffffff" stroke="#111" stroke-width="1"/>
<circle cx="55.91" cy="497.52" r="1.8" fill="#5e1529" stroke="#111" stroke-width="1"/>
<circle cx="61.91" cy="497.52" r="1.8" fill="#5e1529" stroke="#111" stroke-width="1"/>
<circle cx="58.91" cy="500.03" r="1.8" fill="#5e1529" stroke="#111" stroke-width="1"/>
<circle cx="61.91" cy="501.71" r="1.8" fill="#5e1529" stroke="#111" stroke-width="1"/>
<circle cx="58.91" cy="505.49" r="1.8" fill="#5e1529" stroke="#111" stroke-width="1"/>
<circle cx="72.32" cy="446.76" r="1.8" fill="#5e1529" stroke="#111" stroke-width="1"/>
<circle cx="69.42" cy="469.83" r="1.8" fill="#5e1529" stroke="#111" stroke-width="1"/>
<circle cx="75.22" cy="469.83" r="1.8" fill="#5e1529" stroke="#111" stroke-width="1"/>
<circle cx="72.32" cy="475.28" r="1.8" fill="#5e1529" stroke="#111" stroke-width="1"/>
<circle cx="69.42" cy="483.67" r="1.8" fill="#ffffff" stroke="#111" stroke-width="1"/>
<circle cx="75.22" cy="483.67" r="1.8" fill="#ffffff" stroke="#111" stroke-width="1"/>
<circle cx="72.32" cy="494.58" r="1.8" fill="#ffffff" stroke="#111" stroke-width="1"/>
<circle cx="82.43" cy="456.41" r="1.8" fill="#5e1529" stroke="#111" stroke-width="1"/>
<circle cx="88.43" cy="453.47" r="1.8" fill="#5e1529" stroke="#111" stroke-width="1"/>
<circle cx="85.73" cy="468.57" r="1.8" fill="#5e1529" stroke="#111" stroke-width="1"/>
<circle cx="85.73" cy="475.28" r="1.8" fill="#5e1529" stroke="#111" stroke-width="1"/>
<circle cx="85.73" cy="482.42" r="1.8" fill="#ffffff" stroke="#111" stroke-width="1"/>
<circle cx="82.73" cy="488.29" r="1.8" fill="#ffffff" stroke="#111" stroke-width="1"/>
<circle cx="88.73" cy="488.29" r="1.8" fill="#ffffff" stroke="#111" stroke-width="1"/>
<circle cx="85.73" cy="492.48" r="1.8" fill="#ffffff" stroke="#111" stroke-width="1"/>
<circle cx="99.14" cy="440.89" r="1.8" fill="#5e1529" stroke="#111" stroke-width="1"/>
<circle cx="99.14" cy="461.86" r="1.8" fill="#5e1529" stroke="#111" stroke-width="1"/>
<circle cx="96.34" cy="476.96" r="1.8" fill="#5e1529" stroke="#111" stroke-width="1"/>
<circle cx="101.94" cy="480.32" r="1.8" fill="#ffffff" stroke="#111" stroke-width="1"/>
<circle cx="99.14" cy="484.51" r="1.8" fill="#ffffff" stroke="#111" stroke-width="1"/>
<circle cx="112.55" cy="457.67" r="1.8" fill="#5e1529" stroke="#111" stroke-width="1"/>
<circle cx="112.55" cy="467.31" r="1.8" fill="#5e1529" stroke="#111" stroke-width="1"/>
<circle cx="109.85" cy="472.77" r="1.8" fill="#5e1529" stroke="#111" stroke-width="1"/>
<circle cx="115.25" cy="472.77" r="1.8" fill="#5e1529" stroke="#111" stroke-width="1"/>
<circle cx="109.85" cy="477.38" r="1.8" fill="#5e1529" stroke="#111" stroke-width="1"/>
<circle cx="115.25" cy="479.48" r="1.8" fill="#ffffff" stroke="#111" stroke-width="1"/>
<circle cx="112.55" cy="489.55" r="1.8" fill="#ffffff" stroke="#111" stroke-width="1"/>
<circle cx="125.96" cy="499.62" r="1.8" fill="#5e1529" stroke="#111" stroke-width="1"/>
<circle cx="122.96" cy="505.91" r="1.8" fill="#5e1529" stroke="#111" stroke-width="1"/>
<circle cx="128.96" cy="503.39" r="1.8" fill="#5e1529" stroke="#111" stroke-width="1"/>
<circle cx="136.37" cy="482.84" r="1.8" fill="#ffffff" stroke="#111" stroke-width="1"/>
<circle cx="139.37" cy="485.77" r="1.8" fill="#ffffff" stroke="#111" stroke-width="1"/>
<circle cx="136.37" cy="496.68" r="1.8" fill="#5e1529" stroke="#111" stroke-width="1"/>
<circle cx="139.37" cy="496.68" r="1.8" fill="#5e1529" stroke="#111" stroke-width="1"/>
<circle cx="142.37" cy="496.68" r="1.8" fill="#5e1529" stroke="#111" stroke-width="1"/>
<circle cx="150.08" cy="468.99" r="1.8" fill="#5e1529" stroke="#111" stroke-width="1"/>
<circle cx="155.48" cy="468.99" r="1.8" fill="#5e1529" stroke="#111" stroke-width="1"/>
<circle cx="150.08" cy="486.61" r="1.8" fill="#ffffff" stroke="#111" stroke-width="1"/>
<circle cx="155.48" cy="486.61" r="1.8" fill="#ffffff" stroke="#111" stroke-width="1"/>
<circle cx="150.08" cy="502.55" r="1.8" fill="#5e1529" stroke="#111" stroke-width="1"/>
<circle cx="155.48" cy="501.71" r="1.8" fill="#5e1529" stroke="#111" stroke-width="1"/>
<line x1="36.5" y1="425.1" x2="36.5" y2="512.8" stroke="#111" stroke-width="1.3"/>
<line x1="35.9" y1="512.2" x2="162.58" y2="512.2" stroke="#24161a" stroke-width="1.25"/>
<line x1="33.1" y1="512.2" x2="36.5" y2="512.2" stroke="#111" stroke-width="1"/>
<text x="29.5" y="514.2" text-anchor="end" class="tk" transform="translate(0 514.2) scale(1 0.92) translate(0 -514.2)">0</text>
<line x1="33.1" y1="491.23" x2="36.5" y2="491.23" stroke="#111" stroke-width="1"/>
<text x="29.5" y="493.23" text-anchor="end" class="tk" transform="translate(0 493.23) scale(1 0.92) translate(0 -493.23)">5</text>
<line x1="33.1" y1="470.25" x2="36.5" y2="470.25" stroke="#111" stroke-width="1"/>
<text x="29.5" y="472.25" text-anchor="end" class="tk" transform="translate(0 472.25) scale(1 0.92) translate(0 -472.25)">10</text>
<line x1="33.1" y1="449.28" x2="36.5" y2="449.28" stroke="#111" stroke-width="1"/>
<text x="29.5" y="451.28" text-anchor="end" class="tk" transform="translate(0 451.28) scale(1 0.92) translate(0 -451.28)">15</text>
<line x1="33.1" y1="428.3" x2="36.5" y2="428.3" stroke="#111" stroke-width="1"/>
<text x="29.5" y="430.3" text-anchor="end" class="tk" transform="translate(0 430.3) scale(1 0.92) translate(0 -430.3)">20</text>
<line x1="45.5" y1="512.2" x2="45.5" y2="515.4" stroke="#111" stroke-width="0.9"/>
<text class="xl" text-anchor="end" transform="translate(48.5 520.6) rotate(-45)">+/+</text>
<line x1="58.91" y1="512.2" x2="58.91" y2="515.4" stroke="#111" stroke-width="0.9"/>
<text class="xl" text-anchor="end" transform="translate(61.91 520.6) rotate(-45)"><tspan font-style="italic">frs</tspan>/+</text>
<line x1="72.32" y1="512.2" x2="72.32" y2="515.4" stroke="#111" stroke-width="0.9"/>
<text class="xl" text-anchor="end" transform="translate(75.32 520.6) rotate(-45)"><tspan font-style="italic">frs</tspan>/<tspan font-style="italic">frs</tspan></text>
<line x1="85.73" y1="512.2" x2="85.73" y2="515.4" stroke="#111" stroke-width="0.9"/>
<text class="xl" text-anchor="end" transform="translate(88.73 520.6) rotate(-45)">+/+</text>
<line x1="99.14" y1="512.2" x2="99.14" y2="515.4" stroke="#111" stroke-width="0.9"/>
<text class="xl" text-anchor="end" transform="translate(102.14 520.6) rotate(-45)"><tspan font-style="italic">frs</tspan>/+</text>
<line x1="112.55" y1="512.2" x2="112.55" y2="515.4" stroke="#111" stroke-width="0.9"/>
<text class="xl" text-anchor="end" transform="translate(115.55 520.6) rotate(-45)"><tspan font-style="italic">frs</tspan>/<tspan font-style="italic">frs</tspan></text>
<line x1="125.96" y1="512.2" x2="125.96" y2="515.4" stroke="#111" stroke-width="0.9"/>
<text class="xl" text-anchor="end" transform="translate(128.96 520.6) rotate(-45)">+/+</text>
<line x1="139.37" y1="512.2" x2="139.37" y2="515.4" stroke="#111" stroke-width="0.9"/>
<text class="xl" text-anchor="end" transform="translate(142.37 520.6) rotate(-45)"><tspan font-style="italic">frs</tspan>/+</text>
<line x1="152.78" y1="512.2" x2="152.78" y2="515.4" stroke="#111" stroke-width="0.9"/>
<text class="xl" text-anchor="end" transform="translate(155.78 520.6) rotate(-45)"><tspan font-style="italic">frs</tspan>/<tspan font-style="italic">frs</tspan></text>
<line x1="77.33" y1="537.4" x2="113.45" y2="537.4" stroke="#1a1a1a" stroke-width="1.2"/>
<text class="gl" x="0" y="0" text-anchor="middle" fill="#b3355a" stroke="#b3355a" transform="translate(95.39 546.6) scale(1 0.92)">+10uM Iron</text>
<line x1="117.56" y1="537.4" x2="153.68" y2="537.4" stroke="#1a1a1a" stroke-width="1.2"/>
<text class="gl" x="0" y="0" text-anchor="middle" fill="#5a4843" stroke="#5a4843" transform="translate(135.62 546.6) scale(1 0.92)">+15uM Iron</text>
<text class="yl" text-anchor="middle" transform="translate(14.1 468.95) rotate(-90) scale(0.84 1)">% lcr:GFP– in S phase</text>
<text class="pl" x="7.6" y="390.8">G</text>
<rect x="216" y="483.04" width="9" height="29.16" fill="#4a5968"/>
<rect x="229.35" y="488.81" width="9" height="23.39" fill="#4a5968"/>
<rect x="242.7" y="470.98" width="9" height="41.22" fill="#4a5968"/>
<rect x="256.05" y="488.81" width="9" height="23.39" fill="#9199a2"/>
<rect x="269.4" y="491.23" width="9" height="20.98" fill="#9199a2"/>
<rect x="282.75" y="490.39" width="9" height="21.81" fill="#9199a2"/>
<rect x="296.1" y="491.23" width="9" height="20.98" fill="#d9dce0"/>
<rect x="309.45" y="478.64" width="9" height="33.56" fill="#d9dce0"/>
<rect x="322.8" y="480" width="9" height="32.2" fill="#d9dce0"/>
<line x1="207" y1="477.28" x2="337.1" y2="477.28" stroke="#c8909b" stroke-width="1.1" stroke-dasharray="2.1 2.7"/>
<line x1="207" y1="488.92" x2="337.1" y2="488.92" stroke="#c8909b" stroke-width="1.1" stroke-dasharray="2.1 2.7"/>
<line x1="220.5" y1="488.08" x2="220.5" y2="478.64" stroke="#505050" stroke-width="1.1"/>
<line x1="217.9" y1="478.64" x2="223.1" y2="478.64" stroke="#505050" stroke-width="0.9"/>
<line x1="217.9" y1="488.08" x2="223.1" y2="488.08" stroke="#505050" stroke-width="0.9"/>
<line x1="233.85" y1="492.27" x2="233.85" y2="483.36" stroke="#505050" stroke-width="1.1"/>
<line x1="231.25" y1="483.36" x2="236.45" y2="483.36" stroke="#505050" stroke-width="0.9"/>
<line x1="231.25" y1="492.27" x2="236.45" y2="492.27" stroke="#505050" stroke-width="0.9"/>
<line x1="247.2" y1="479.69" x2="247.2" y2="455.57" stroke="#505050" stroke-width="1.1"/>
<line x1="244.6" y1="455.57" x2="249.8" y2="455.57" stroke="#505050" stroke-width="0.9"/>
<line x1="244.6" y1="479.69" x2="249.8" y2="479.69" stroke="#505050" stroke-width="0.9"/>
<line x1="260.55" y1="492.27" x2="260.55" y2="482.84" stroke="#505050" stroke-width="1.1"/>
<line x1="257.95" y1="482.84" x2="263.15" y2="482.84" stroke="#505050" stroke-width="0.9"/>
<line x1="257.95" y1="492.27" x2="263.15" y2="492.27" stroke="#505050" stroke-width="0.9"/>
<line x1="273.9" y1="492.27" x2="273.9" y2="489.13" stroke="#505050" stroke-width="1.1"/>
<line x1="271.3" y1="489.13" x2="276.5" y2="489.13" stroke="#505050" stroke-width="0.9"/>
<line x1="271.3" y1="492.27" x2="276.5" y2="492.27" stroke="#505050" stroke-width="0.9"/>
<line x1="287.25" y1="492.8" x2="287.25" y2="485.98" stroke="#505050" stroke-width="1.1"/>
<line x1="284.65" y1="485.98" x2="289.85" y2="485.98" stroke="#505050" stroke-width="0.9"/>
<line x1="284.65" y1="492.8" x2="289.85" y2="492.8" stroke="#505050" stroke-width="0.9"/>
<line x1="313.95" y1="482.84" x2="313.95" y2="473.4" stroke="#505050" stroke-width="1.1"/>
<line x1="311.35" y1="473.4" x2="316.55" y2="473.4" stroke="#505050" stroke-width="0.9"/>
<line x1="311.35" y1="482.84" x2="316.55" y2="482.84" stroke="#505050" stroke-width="0.9"/>
<line x1="327.3" y1="494.37" x2="327.3" y2="465.01" stroke="#505050" stroke-width="1.1"/>
<line x1="324.7" y1="465.01" x2="329.9" y2="465.01" stroke="#505050" stroke-width="0.9"/>
<line x1="324.7" y1="494.37" x2="329.9" y2="494.37" stroke="#505050" stroke-width="0.9"/>
<circle cx="217" cy="477.59" r="1.8" fill="#ffffff" stroke="#111" stroke-width="1"/>
<circle cx="220.5" cy="477.59" r="1.8" fill="#ffffff" stroke="#111" stroke-width="1"/>
<circle cx="224" cy="477.59" r="1.8" fill="#ffffff" stroke="#111" stroke-width="1"/>
<circle cx="220.5" cy="484.93" r="1.8" fill="#ffffff" stroke="#111" stroke-width="1"/>
<circle cx="220.5" cy="491.23" r="1.8" fill="#5e1529" stroke="#111" stroke-width="1"/>
<circle cx="233.85" cy="474.45" r="1.8" fill="#5e1529" stroke="#111" stroke-width="1"/>
<circle cx="231.05" cy="484.93" r="1.8" fill="#ffffff" stroke="#111" stroke-width="1"/>
<circle cx="236.35" cy="488.08" r="1.8" fill="#ffffff" stroke="#111" stroke-width="1"/>
<circle cx="230.85" cy="490.18" r="1.8" fill="#5e1529" stroke="#111" stroke-width="1"/>
<circle cx="233.85" cy="491.75" r="1.8" fill="#5e1529" stroke="#111" stroke-width="1"/>
<circle cx="237.35" cy="490.18" r="1.8" fill="#5e1529" stroke="#111" stroke-width="1"/>
<circle cx="235.35" cy="491.75" r="1.8" fill="#5e1529" stroke="#111" stroke-width="1"/>
<circle cx="247.2" cy="455.57" r="1.8" fill="#5e1529" stroke="#111" stroke-width="1"/>
<circle cx="243.7" cy="460.29" r="1.8" fill="#5e1529" stroke="#111" stroke-width="1"/>
<circle cx="250.2" cy="460.81" r="1.8" fill="#5e1529" stroke="#111" stroke-width="1"/>
<circle cx="247.2" cy="468.15" r="1.8" fill="#5e1529" stroke="#111" stroke-width="1"/>
<circle cx="243.7" cy="478.64" r="1.8" fill="#ffffff" stroke="#111" stroke-width="1"/>
<circle cx="250.2" cy="478.64" r="1.8" fill="#ffffff" stroke="#111" stroke-width="1"/>
<circle cx="243.7" cy="483.88" r="1.8" fill="#ffffff" stroke="#111" stroke-width="1"/>
<circle cx="250.7" cy="483.88" r="1.8" fill="#ffffff" stroke="#111" stroke-width="1"/>
<circle cx="257.25" cy="478.12" r="1.8" fill="#ffffff" stroke="#111" stroke-width="1"/>
<circle cx="263.25" cy="479.69" r="1.8" fill="#ffffff" stroke="#111" stroke-width="1"/>
<circle cx="260.55" cy="484.41" r="1.8" fill="#ffffff" stroke="#111" stroke-width="1"/>
<circle cx="257.25" cy="485.98" r="1.8" fill="#ffffff" stroke="#111" stroke-width="1"/>
<circle cx="263.85" cy="485.98" r="1.8" fill="#ffffff" stroke="#111" stroke-width="1"/>
<circle cx="257.05" cy="491.02" r="1.8" fill="#5e1529" stroke="#111" stroke-width="1"/>
<circle cx="260.55" cy="491.02" r="1.8" fill="#5e1529" stroke="#111" stroke-width="1"/>
<circle cx="264.05" cy="491.02" r="1.8" fill="#5e1529" stroke="#111" stroke-width="1"/>
<circle cx="270.9" cy="487.03" r="1.8" fill="#ffffff" stroke="#111" stroke-width="1"/>
<circle cx="273.9" cy="487.55" r="1.8" fill="#5e1529" stroke="#111" stroke-width="1"/>
<circle cx="276.9" cy="487.55" r="1.8" fill="#5e1529" stroke="#111" stroke-width="1"/>
<circle cx="272.4" cy="490.7" r="1.8" fill="#5e1529" stroke="#111" stroke-width="1"/>
<circle cx="275.4" cy="490.7" r="1.8" fill="#5e1529" stroke="#111" stroke-width="1"/>
<circle cx="287.25" cy="477.07" r="1.8" fill="#5e1529" stroke="#111" stroke-width="1"/>
<circle cx="285.25" cy="483.88" r="1.8" fill="#ffffff" stroke="#111" stroke-width="1"/>
<circle cx="289.25" cy="483.88" r="1.8" fill="#ffffff" stroke="#111" stroke-width="1"/>
<circle cx="284.25" cy="487.03" r="1.8" fill="#ffffff" stroke="#111" stroke-width="1"/>
<circle cx="284.25" cy="489.13" r="1.8" fill="#5e1529" stroke="#111" stroke-width="1"/>
<circle cx="290.25" cy="489.13" r="1.8" fill="#5e1529" stroke="#111" stroke-width="1"/>
<circle cx="300.6" cy="484.41" r="1.8" fill="#ffffff" stroke="#111" stroke-width="1"/>
<circle cx="300.6" cy="489.65" r="1.8" fill="#5e1529" stroke="#111" stroke-width="1"/>
<circle cx="300.6" cy="496.47" r="1.8" fill="#5e1529" stroke="#111" stroke-width="1"/>
<circle cx="310.75" cy="470.77" r="1.8" fill="#5e1529" stroke="#111" stroke-width="1"/>
<circle cx="315.25" cy="471.82" r="1.8" fill="#5e1529" stroke="#111" stroke-width="1"/>
<circle cx="318.15" cy="473.92" r="1.8" fill="#5e1529" stroke="#111" stroke-width="1"/>
<circle cx="313.95" cy="477.07" r="1.8" fill="#ffffff" stroke="#111" stroke-width="1"/>
<circle cx="313.95" cy="480.21" r="1.8" fill="#ffffff" stroke="#111" stroke-width="1"/>
<circle cx="324.3" cy="465.53" r="1.8" fill="#5e1529" stroke="#111" stroke-width="1"/>
<circle cx="329.8" cy="465.01" r="1.8" fill="#5e1529" stroke="#111" stroke-width="1"/>
<circle cx="327.3" cy="475.49" r="1.8" fill="#5e1529" stroke="#111" stroke-width="1"/>
<circle cx="327.3" cy="479.69" r="1.8" fill="#ffffff" stroke="#111" stroke-width="1"/>
<circle cx="327.3" cy="489.13" r="1.8" fill="#5e1529" stroke="#111" stroke-width="1"/>
<circle cx="327.3" cy="496.99" r="1.8" fill="#5e1529" stroke="#111" stroke-width="1"/>
<line x1="211.5" y1="425.1" x2="211.5" y2="512.8" stroke="#111" stroke-width="1.3"/>
<line x1="210.9" y1="512.2" x2="337.1" y2="512.2" stroke="#24161a" stroke-width="1.25"/>
<line x1="208.1" y1="512.2" x2="211.5" y2="512.2" stroke="#111" stroke-width="1"/>
<text x="204.5" y="514.2" text-anchor="end" class="tk" transform="translate(0 514.2) scale(1 0.92) translate(0 -514.2)">0</text>
<line x1="208.1" y1="491.23" x2="211.5" y2="491.23" stroke="#111" stroke-width="1"/>
<text x="204.5" y="493.23" text-anchor="end" class="tk" transform="translate(0 493.23) scale(1 0.92) translate(0 -493.23)">20</text>
<line x1="208.1" y1="470.25" x2="211.5" y2="470.25" stroke="#111" stroke-width="1"/>
<text x="204.5" y="472.25" text-anchor="end" class="tk" transform="translate(0 472.25) scale(1 0.92) translate(0 -472.25)">40</text>
<line x1="208.1" y1="449.28" x2="211.5" y2="449.28" stroke="#111" stroke-width="1"/>
<text x="204.5" y="451.28" text-anchor="end" class="tk" transform="translate(0 451.28) scale(1 0.92) translate(0 -451.28)">60</text>
<line x1="208.1" y1="428.3" x2="211.5" y2="428.3" stroke="#111" stroke-width="1"/>
<text x="204.5" y="430.3" text-anchor="end" class="tk" transform="translate(0 430.3) scale(1 0.92) translate(0 -430.3)">80</text>
<line x1="220.5" y1="512.2" x2="220.5" y2="515.4" stroke="#111" stroke-width="0.9"/>
<text class="xl" text-anchor="end" transform="translate(223.5 520.6) rotate(-45)">+/+</text>
<line x1="233.85" y1="512.2" x2="233.85" y2="515.4" stroke="#111" stroke-width="0.9"/>
<text class="xl" text-anchor="end" transform="translate(236.85 520.6) rotate(-45)"><tspan font-style="italic">frs</tspan>/+</text>
<line x1="247.2" y1="512.2" x2="247.2" y2="515.4" stroke="#111" stroke-width="0.9"/>
<text class="xl" text-anchor="end" transform="translate(250.2 520.6) rotate(-45)"><tspan font-style="italic">frs</tspan>/<tspan font-style="italic">frs</tspan></text>
<line x1="260.55" y1="512.2" x2="260.55" y2="515.4" stroke="#111" stroke-width="0.9"/>
<text class="xl" text-anchor="end" transform="translate(263.55 520.6) rotate(-45)">+/+</text>
<line x1="273.9" y1="512.2" x2="273.9" y2="515.4" stroke="#111" stroke-width="0.9"/>
<text class="xl" text-anchor="end" transform="translate(276.9 520.6) rotate(-45)"><tspan font-style="italic">frs</tspan>/+</text>
<line x1="287.25" y1="512.2" x2="287.25" y2="515.4" stroke="#111" stroke-width="0.9"/>
<text class="xl" text-anchor="end" transform="translate(290.25 520.6) rotate(-45)"><tspan font-style="italic">frs</tspan>/<tspan font-style="italic">frs</tspan></text>
<line x1="300.6" y1="512.2" x2="300.6" y2="515.4" stroke="#111" stroke-width="0.9"/>
<text class="xl" text-anchor="end" transform="translate(303.6 520.6) rotate(-45)">+/+</text>
<line x1="313.95" y1="512.2" x2="313.95" y2="515.4" stroke="#111" stroke-width="0.9"/>
<text class="xl" text-anchor="end" transform="translate(316.95 520.6) rotate(-45)"><tspan font-style="italic">frs</tspan>/+</text>
<line x1="327.3" y1="512.2" x2="327.3" y2="515.4" stroke="#111" stroke-width="0.9"/>
<text class="xl" text-anchor="end" transform="translate(330.3 520.6) rotate(-45)"><tspan font-style="italic">frs</tspan>/<tspan font-style="italic">frs</tspan></text>
<line x1="252.15" y1="537.4" x2="288.15" y2="537.4" stroke="#1a1a1a" stroke-width="1.2"/>
<text class="gl" x="0" y="0" text-anchor="middle" fill="#b3355a" stroke="#b3355a" transform="translate(270.15 546.6) scale(1 0.92)">+10uM Iron</text>
<line x1="292.2" y1="537.4" x2="328.2" y2="537.4" stroke="#1a1a1a" stroke-width="1.2"/>
<text class="gl" x="0" y="0" text-anchor="middle" fill="#5a4843" stroke="#5a4843" transform="translate(310.2 546.6) scale(1 0.92)">+15uM Iron</text>
<text class="yl" text-anchor="middle" transform="translate(191.7 470.25) rotate(-90) scale(0.84 1)">% lcr:GFP– in G2/M phase</text>
<path d="M233.85 447.8V444.8H247.2V447.8" fill="none" stroke="#3a3a3a" stroke-width="0.9"/>
<text class="st" x="240.52" y="443.9" text-anchor="middle">**</text>
<path d="M247.2 439.2V436.2H287.25V439.2" fill="none" stroke="#3a3a3a" stroke-width="0.9"/>
<text class="st" x="267.23" y="435.3" text-anchor="middle">**</text>
<text class="pl" x="183.6" y="390.8">H</text>
<rect x="0.5" y="0.5" width="519" height="555" fill="none" stroke="#3a3a3a" stroke-width="1"/>
</svg>
</body></html>
